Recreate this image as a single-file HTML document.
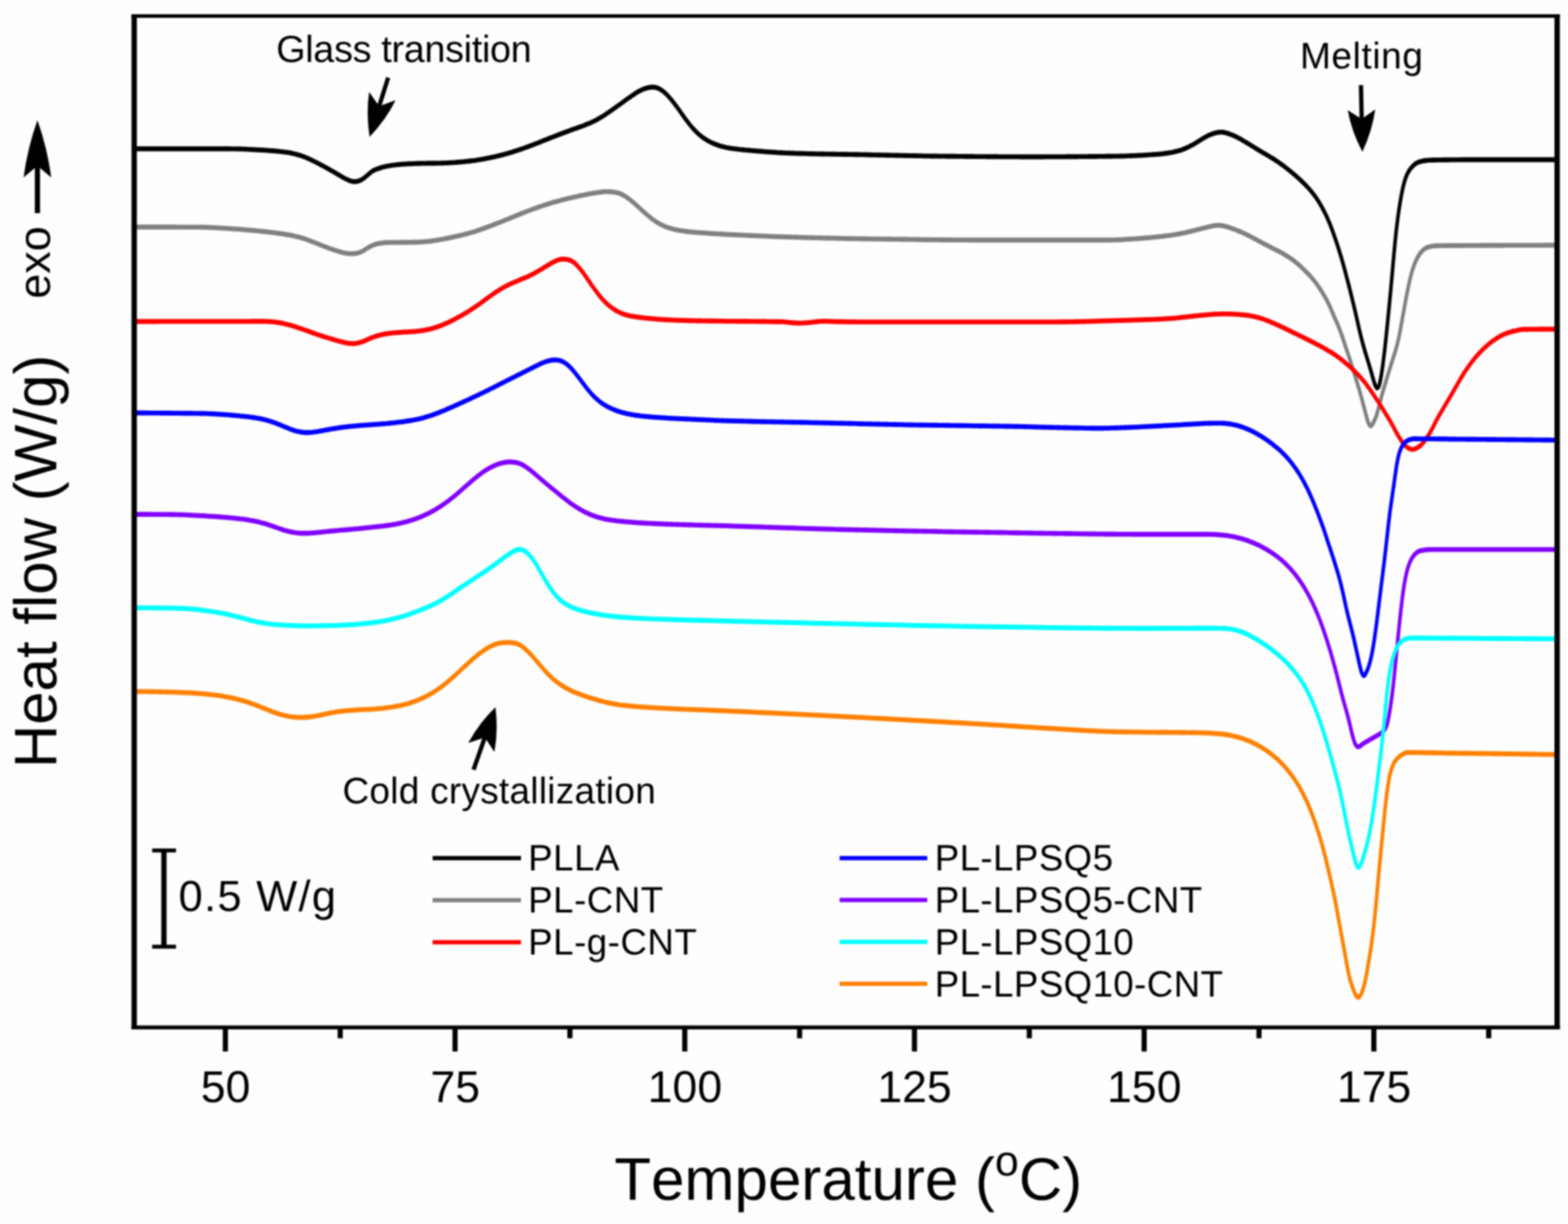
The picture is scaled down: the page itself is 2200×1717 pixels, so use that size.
<!DOCTYPE html>
<html lang="en"><head><meta charset="utf-8"><title>DSC heating curves</title>
<style>html,body{margin:0;padding:0;background:#fefefe;}body{width:2200px;height:1717px;overflow:hidden;}svg{display:block;filter:blur(0.9px);}</style>
</head><body>
<svg width="2200" height="1717" viewBox="0 0 2200 1717">
<rect x="0" y="0" width="2200" height="1717" fill="#fefefe"/>
<defs><clipPath id="cp"><rect x="186" y="20" width="2002" height="1424"/></clipPath></defs>
<g clip-path="url(#cp)"><g transform="scale(1,1.36)" fill="none" stroke-linejoin="round" stroke-linecap="butt" stroke-width="5.05">
<path d="M186 153.5L188 153.5L190 153.5L192 153.5L194 153.5L196 153.5L198 153.5L200 153.5L202 153.5L204 153.5L206 153.5L208 153.5L210 153.5L212 153.5L214 153.5L216 153.5L218 153.5L220 153.5L222 153.5L224 153.5L226 153.5L228 153.5L230 153.5L232 153.5L234 153.5L236 153.5L238 153.5L240 153.5L242 153.5L244 153.5L246 153.5L248 153.5L250 153.5L252 153.5L254 153.5L256 153.5L258 153.5L260 153.5L262 153.5L264 153.5L266 153.5L268 153.5L270 153.5L272 153.5L274 153.5L276 153.5L278 153.5L280 153.5L282 153.5L284 153.5L286 153.5L288 153.5L290 153.5L292 153.5L294 153.5L296 153.5L298 153.5L300 153.5L302 153.5L304 153.5L306 153.5L308 153.5L310 153.5L312 153.5L314 153.5L316 153.5L318 153.5L320 153.5L322 153.5L324 153.6L326 153.6L328 153.6L330 153.6L332 153.6L334 153.7L336 153.7L338 153.7L340 153.8L342 153.8L344 153.9L346 154.0L348 154.0L350 154.1L352 154.2L354 154.2L356 154.3L358 154.4L360 154.5L362 154.6L364 154.6L366 154.7L368 154.8L370 154.9L372 155.0L374 155.1L376 155.2L378 155.3L380 155.4L382 155.5L384 155.6L386 155.8L388 155.9L390 156.0L392 156.2L394 156.3L396 156.5L398 156.7L400 156.9L402 157.1L404 157.3L406 157.5L408 157.8L410 158.1L412 158.5L414 158.8L416 159.2L418 159.6L420 160.0L422 160.5L424 161.0L426 161.6L428 162.1L430 162.7L432 163.4L434 164.0L436 164.7L438 165.4L440 166.1L442 166.9L444 167.6L446 168.4L448 169.1L450 169.9L452 170.7L454 171.5L456 172.3L458 173.1L460 173.9L462 174.8L464 175.6L466 176.4L468 177.3L470 178.1L472 179.0L474 179.8L476 180.7L478 181.6L480 182.4L482 183.3L484 184.1L486 184.8L488 185.5L490 186.1L492 186.6L494 187.0L496 187.3L498 187.3L500 187.2L502 186.9L504 186.5L506 185.8L508 185.0L510 184.1L512 182.9L514 181.7L516 180.4L518 179.1L520 177.9L522 176.8L524 175.9L526 175.2L528 174.6L530 174.1L532 173.6L534 173.1L536 172.6L538 172.2L540 171.9L542 171.5L544 171.2L546 171.0L548 170.7L550 170.5L552 170.3L554 170.1L556 170.0L558 169.8L560 169.7L562 169.5L564 169.4L566 169.3L568 169.2L570 169.1L572 169.0L574 168.9L576 168.9L578 168.8L580 168.8L582 168.7L584 168.7L586 168.6L588 168.6L590 168.6L592 168.5L594 168.5L596 168.5L598 168.5L600 168.4L602 168.4L604 168.4L606 168.4L608 168.4L610 168.4L612 168.3L614 168.3L616 168.3L618 168.3L620 168.2L622 168.2L624 168.1L626 168.1L628 168.0L630 167.9L632 167.8L634 167.7L636 167.7L638 167.6L640 167.5L642 167.3L644 167.2L646 167.1L648 167.0L650 166.8L652 166.7L654 166.5L656 166.4L658 166.2L660 166.0L662 165.9L664 165.7L666 165.5L668 165.3L670 165.0L672 164.8L674 164.6L676 164.3L678 164.1L680 163.8L682 163.5L684 163.2L686 162.9L688 162.6L690 162.3L692 162.0L694 161.7L696 161.3L698 161.0L700 160.6L702 160.3L704 159.9L706 159.5L708 159.1L710 158.7L712 158.3L714 157.8L716 157.4L718 157.0L720 156.5L722 156.0L724 155.6L726 155.1L728 154.6L730 154.1L732 153.6L734 153.1L736 152.6L738 152.0L740 151.5L742 151.0L744 150.4L746 149.8L748 149.3L750 148.7L752 148.1L754 147.6L756 147.0L758 146.4L760 145.8L762 145.2L764 144.6L766 144.1L768 143.5L770 142.9L772 142.3L774 141.7L776 141.2L778 140.6L780 140.0L782 139.5L784 138.9L786 138.3L788 137.8L790 137.2L792 136.7L794 136.1L796 135.6L798 135.0L800 134.5L802 133.9L804 133.4L806 132.9L808 132.4L810 131.9L812 131.3L814 130.8L816 130.3L818 129.8L820 129.2L822 128.6L824 128.0L826 127.4L828 126.8L830 126.1L832 125.5L834 124.7L836 124.0L838 123.2L840 122.4L842 121.5L844 120.6L846 119.7L848 118.8L850 117.8L852 116.8L854 115.8L856 114.8L858 113.8L860 112.7L862 111.7L864 110.6L866 109.6L868 108.5L870 107.5L872 106.4L874 105.3L876 104.3L878 103.2L880 102.1L882 101.1L884 100.1L886 99.0L888 98.1L890 97.1L892 96.1L894 95.2L896 94.3L898 93.5L900 92.8L902 92.1L904 91.6L906 91.1L908 90.7L910 90.3L912 90.1L914 89.9L916 89.8L918 90.0L920 90.2L922 90.7L924 91.2L926 92.0L928 92.9L930 93.9L932 95.1L934 96.5L936 97.9L938 99.5L940 101.2L942 102.9L944 104.7L946 106.6L948 108.6L950 110.6L952 112.6L954 114.7L956 116.8L958 118.9L960 120.9L962 123.0L964 124.9L966 126.8L968 128.7L970 130.5L972 132.2L974 133.8L976 135.3L978 136.8L980 138.1L982 139.4L984 140.6L986 141.7L988 142.8L990 143.7L992 144.6L994 145.5L996 146.2L998 147.0L1000 147.6L1002 148.3L1004 148.8L1006 149.4L1008 149.9L1010 150.4L1012 150.8L1014 151.2L1016 151.6L1018 151.9L1020 152.3L1022 152.5L1024 152.8L1026 153.0L1028 153.2L1030 153.4L1032 153.6L1034 153.8L1036 154.0L1038 154.1L1040 154.3L1042 154.4L1044 154.6L1046 154.7L1048 154.9L1050 155.0L1052 155.1L1054 155.3L1056 155.4L1058 155.5L1060 155.6L1062 155.8L1064 155.9L1066 156.0L1068 156.1L1070 156.2L1072 156.4L1074 156.5L1076 156.6L1078 156.7L1080 156.8L1082 156.9L1084 157.0L1086 157.1L1088 157.2L1090 157.3L1092 157.4L1094 157.5L1096 157.5L1098 157.6L1100 157.7L1102 157.8L1104 157.8L1106 157.9L1108 157.9L1110 158.0L1112 158.1L1114 158.1L1116 158.2L1118 158.2L1120 158.3L1122 158.3L1124 158.3L1126 158.4L1128 158.4L1130 158.4L1132 158.5L1134 158.5L1136 158.5L1138 158.6L1140 158.6L1142 158.6L1144 158.7L1146 158.7L1148 158.7L1150 158.8L1152 158.8L1154 158.8L1156 158.8L1158 158.9L1160 158.9L1162 158.9L1164 158.9L1166 159.0L1168 159.0L1170 159.0L1172 159.0L1174 159.1L1176 159.1L1178 159.1L1180 159.1L1182 159.2L1184 159.2L1186 159.2L1188 159.2L1190 159.3L1192 159.3L1194 159.3L1196 159.3L1198 159.4L1200 159.4L1202 159.4L1204 159.4L1206 159.5L1208 159.5L1210 159.5L1212 159.5L1214 159.6L1216 159.6L1218 159.6L1220 159.7L1222 159.7L1224 159.7L1226 159.8L1228 159.8L1230 159.8L1232 159.9L1234 159.9L1236 159.9L1238 160.0L1240 160.0L1242 160.0L1244 160.1L1246 160.1L1248 160.1L1250 160.2L1252 160.2L1254 160.2L1256 160.3L1258 160.3L1260 160.3L1262 160.4L1264 160.4L1266 160.4L1268 160.5L1270 160.5L1272 160.5L1274 160.6L1276 160.6L1278 160.6L1280 160.6L1282 160.7L1284 160.7L1286 160.7L1288 160.8L1290 160.8L1292 160.8L1294 160.8L1296 160.9L1298 160.9L1300 160.9L1302 160.9L1304 160.9L1306 161.0L1308 161.0L1310 161.0L1312 161.0L1314 161.0L1316 161.1L1318 161.1L1320 161.1L1322 161.1L1324 161.1L1326 161.1L1328 161.2L1330 161.2L1332 161.2L1334 161.2L1336 161.2L1338 161.2L1340 161.2L1342 161.3L1344 161.3L1346 161.3L1348 161.3L1350 161.3L1352 161.3L1354 161.4L1356 161.4L1358 161.4L1360 161.4L1362 161.4L1364 161.4L1366 161.4L1368 161.5L1370 161.5L1372 161.5L1374 161.5L1376 161.5L1378 161.5L1380 161.5L1382 161.5L1384 161.6L1386 161.6L1388 161.6L1390 161.6L1392 161.6L1394 161.6L1396 161.6L1398 161.6L1400 161.6L1402 161.7L1404 161.7L1406 161.7L1408 161.7L1410 161.7L1412 161.7L1414 161.7L1416 161.7L1418 161.7L1420 161.7L1422 161.7L1424 161.7L1426 161.7L1428 161.7L1430 161.7L1432 161.8L1434 161.8L1436 161.8L1438 161.8L1440 161.8L1442 161.8L1444 161.8L1446 161.8L1448 161.8L1450 161.8L1452 161.8L1454 161.8L1456 161.8L1458 161.8L1460 161.8L1462 161.8L1464 161.8L1466 161.7L1468 161.7L1470 161.7L1472 161.7L1474 161.7L1476 161.7L1478 161.7L1480 161.7L1482 161.7L1484 161.7L1486 161.7L1488 161.7L1490 161.7L1492 161.7L1494 161.7L1496 161.6L1498 161.6L1500 161.6L1502 161.6L1504 161.6L1506 161.6L1508 161.6L1510 161.6L1512 161.6L1514 161.5L1516 161.5L1518 161.5L1520 161.5L1522 161.5L1524 161.5L1526 161.5L1528 161.4L1530 161.4L1532 161.4L1534 161.4L1536 161.4L1538 161.4L1540 161.3L1542 161.3L1544 161.3L1546 161.3L1548 161.3L1550 161.3L1552 161.2L1554 161.2L1556 161.2L1558 161.2L1560 161.2L1562 161.1L1564 161.1L1566 161.1L1568 161.1L1570 161.1L1572 161.0L1574 161.0L1576 161.0L1578 160.9L1580 160.9L1582 160.8L1584 160.8L1586 160.7L1588 160.7L1590 160.6L1592 160.6L1594 160.5L1596 160.4L1598 160.3L1600 160.3L1602 160.2L1604 160.1L1606 160.0L1608 159.9L1610 159.8L1612 159.7L1614 159.6L1616 159.5L1618 159.4L1620 159.3L1622 159.2L1624 159.1L1626 159.0L1628 158.8L1630 158.7L1632 158.5L1634 158.3L1636 158.1L1638 157.9L1640 157.7L1642 157.4L1644 157.2L1646 156.9L1648 156.6L1650 156.2L1652 155.8L1654 155.4L1656 155.0L1658 154.5L1660 154.0L1662 153.4L1664 152.8L1666 152.1L1668 151.4L1670 150.6L1672 149.9L1674 149.1L1676 148.2L1678 147.3L1680 146.4L1682 145.5L1684 144.6L1686 143.7L1688 142.8L1690 141.9L1692 141.1L1694 140.3L1696 139.6L1698 138.9L1700 138.4L1702 137.8L1704 137.4L1706 137.0L1708 136.7L1710 136.4L1712 136.3L1714 136.3L1716 136.4L1718 136.7L1720 137.0L1722 137.4L1724 137.9L1726 138.5L1728 139.0L1730 139.6L1732 140.3L1734 140.9L1736 141.7L1738 142.4L1740 143.2L1742 144.1L1744 144.9L1746 145.8L1748 146.7L1750 147.6L1752 148.5L1754 149.4L1756 150.3L1758 151.2L1760 152.1L1762 153.0L1764 153.9L1766 154.8L1768 155.7L1770 156.6L1772 157.4L1774 158.3L1776 159.1L1778 160.0L1780 160.9L1782 161.8L1784 162.7L1786 163.6L1788 164.5L1790 165.5L1792 166.5L1794 167.5L1796 168.5L1798 169.6L1800 170.6L1802 171.7L1804 172.9L1806 174.0L1808 175.2L1810 176.4L1812 177.6L1814 178.8L1816 180.1L1818 181.3L1820 182.6L1822 183.9L1824 185.3L1826 186.7L1828 188.1L1830 189.5L1832 191.0L1834 192.6L1836 194.2L1838 195.8L1840 197.6L1842 199.4L1844 201.3L1846 203.3L1848 205.5L1850 207.8L1852 210.2L1854 212.7L1856 215.4L1858 218.2L1859 219.7L1860 221.2L1861 222.7L1862 224.3L1863 226.0L1864 227.7L1865 229.4L1866 231.2L1867 233.1L1868 235.0L1869 237.0L1870 239.0L1871 241.0L1872 243.1L1873 245.2L1874 247.3L1875 249.5L1876 251.7L1877 254.0L1878 256.3L1879 258.6L1880 261.0L1881 263.4L1882 265.9L1883 268.4L1884 271.0L1885 273.7L1886 276.3L1887 279.0L1888 281.8L1889 284.6L1890 287.4L1891 290.2L1892 293.0L1893 295.9L1894 298.8L1895 301.8L1896 304.7L1897 307.7L1898 310.7L1899 313.8L1900 316.9L1901 320.0L1902 323.2L1903 326.4L1904 329.6L1905 332.9L1906 336.2L1907 339.4L1908 342.5L1909 345.6L1910 348.6L1911 351.4L1912 354.2L1913 356.9L1914 359.4L1915 362.0L1916 364.4L1917 366.9L1918 369.3L1919 371.7L1920 374.1L1921 376.5L1922 379.0L1923 381.5L1924 384.0L1925 386.5L1926 389.1L1927 391.7L1928 394.2L1929 396.5L1930 398.3L1932 400.3L1934 399.3L1935 397.4L1936 394.7L1937 391.2L1938 387.1L1939 382.5L1940 377.4L1941 371.8L1942 365.9L1943 359.5L1944 352.9L1945 345.9L1946 338.8L1947 331.5L1948 324.1L1949 316.7L1950 309.1L1951 301.3L1952 293.3L1953 285.2L1954 277.0L1955 268.7L1956 260.6L1957 252.7L1958 245.2L1959 238.3L1960 232.0L1961 226.1L1962 220.6L1963 215.5L1964 210.8L1965 206.4L1966 202.2L1967 198.4L1968 194.9L1969 191.7L1970 188.8L1971 186.2L1972 184.0L1973 181.9L1974 180.2L1976 177.3L1978 175.0L1980 173.1L1982 171.5L1984 170.0L1986 168.9L1988 168.0L1990 167.4L1992 166.9L1994 166.5L1996 166.1L1998 165.8L2000 165.6L2002 165.4L2004 165.3L2006 165.2L2008 165.2L2010 165.1L2012 165.1L2014 165.1L2016 165.0L2018 165.0L2020 165.0L2022 165.0L2024 164.9L2026 164.9L2028 164.9L2030 164.9L2032 164.9L2034 164.8L2036 164.8L2038 164.8L2040 164.8L2042 164.8L2044 164.8L2046 164.8L2048 164.8L2050 164.7L2052 164.7L2054 164.7L2056 164.7L2058 164.7L2060 164.7L2062 164.7L2064 164.7L2066 164.7L2068 164.7L2070 164.7L2072 164.7L2074 164.7L2076 164.7L2078 164.7L2080 164.7L2082 164.7L2084 164.7L2086 164.7L2088 164.7L2090 164.7L2092 164.7L2094 164.7L2096 164.7L2098 164.7L2100 164.7L2102 164.7L2104 164.7L2106 164.7L2108 164.7L2110 164.7L2112 164.7L2114 164.7L2116 164.7L2118 164.7L2120 164.7L2122 164.7L2124 164.7L2126 164.7L2128 164.7L2130 164.7L2132 164.7L2134 164.7L2136 164.7L2138 164.7L2140 164.7L2142 164.7L2144 164.7L2146 164.7L2148 164.7L2150 164.7L2152 164.7L2154 164.7L2156 164.7L2158 164.7L2160 164.7L2162 164.7L2164 164.7L2166 164.7L2168 164.7L2170 164.7L2172 164.7L2174 164.7L2176 164.7L2178 164.7L2180 164.7L2182 164.7L2184 164.7L2186 164.7" stroke="#000000"/>
<path d="M186 234.2L188 234.2L190 234.2L192 234.2L194 234.2L196 234.2L198 234.2L200 234.2L202 234.2L204 234.2L206 234.2L208 234.2L210 234.2L212 234.2L214 234.2L216 234.2L218 234.2L220 234.2L222 234.2L224 234.2L226 234.2L228 234.2L230 234.2L232 234.2L234 234.2L236 234.2L238 234.2L240 234.2L242 234.2L244 234.2L246 234.2L248 234.3L250 234.3L252 234.3L254 234.3L256 234.3L258 234.3L260 234.3L262 234.3L264 234.3L266 234.3L268 234.3L270 234.3L272 234.3L274 234.3L276 234.3L278 234.3L280 234.3L282 234.4L284 234.4L286 234.4L288 234.5L290 234.5L292 234.6L294 234.6L296 234.7L298 234.7L300 234.8L302 234.9L304 235.0L306 235.0L308 235.1L310 235.2L312 235.3L314 235.4L316 235.5L318 235.6L320 235.7L322 235.8L324 235.9L326 236.0L328 236.1L330 236.2L332 236.3L334 236.4L336 236.5L338 236.6L340 236.7L342 236.9L344 237.0L346 237.1L348 237.2L350 237.4L352 237.5L354 237.6L356 237.8L358 237.9L360 238.0L362 238.2L364 238.3L366 238.5L368 238.7L370 238.8L372 239.0L374 239.1L376 239.3L378 239.5L380 239.6L382 239.8L384 240.0L386 240.2L388 240.4L390 240.6L392 240.8L394 241.0L396 241.2L398 241.4L400 241.6L402 241.9L404 242.1L406 242.4L408 242.7L410 243.0L412 243.3L414 243.6L416 244.0L418 244.3L420 244.7L422 245.1L424 245.6L426 246.1L428 246.5L430 247.0L432 247.6L434 248.1L436 248.7L438 249.2L440 249.8L442 250.4L444 251.0L446 251.5L448 252.1L450 252.7L452 253.3L454 253.9L456 254.4L458 255.0L460 255.6L462 256.1L464 256.6L466 257.1L468 257.6L470 258.1L472 258.6L474 259.1L476 259.5L478 259.9L480 260.3L482 260.7L484 261.0L486 261.3L488 261.5L490 261.6L492 261.7L494 261.7L496 261.6L498 261.5L500 261.2L502 260.9L504 260.5L506 260.0L508 259.3L510 258.5L512 257.6L514 256.6L516 255.7L518 254.8L520 254.0L522 253.3L524 252.7L526 252.2L528 251.7L530 251.4L532 251.1L534 250.8L536 250.6L538 250.4L540 250.3L542 250.2L544 250.2L546 250.1L548 250.1L550 250.1L552 250.1L554 250.1L556 250.1L558 250.1L560 250.1L562 250.0L564 250.0L566 250.0L568 250.0L570 250.0L572 249.9L574 249.9L576 249.9L578 249.9L580 249.8L582 249.8L584 249.8L586 249.7L588 249.7L590 249.6L592 249.5L594 249.4L596 249.3L598 249.2L600 249.0L602 248.9L604 248.7L606 248.5L608 248.3L610 248.1L612 247.9L614 247.6L616 247.4L618 247.1L620 246.8L622 246.6L624 246.3L626 246.0L628 245.7L630 245.4L632 245.1L634 244.8L636 244.5L638 244.1L640 243.8L642 243.5L644 243.2L646 242.8L648 242.5L650 242.1L652 241.7L654 241.3L656 240.9L658 240.5L660 240.1L662 239.7L664 239.2L666 238.8L668 238.3L670 237.8L672 237.3L674 236.8L676 236.3L678 235.8L680 235.2L682 234.7L684 234.2L686 233.6L688 233.1L690 232.5L692 231.9L694 231.4L696 230.8L698 230.2L700 229.6L702 229.1L704 228.5L706 227.9L708 227.3L710 226.7L712 226.1L714 225.5L716 224.9L718 224.3L720 223.7L722 223.1L724 222.5L726 221.9L728 221.3L730 220.7L732 220.1L734 219.5L736 219.0L738 218.4L740 217.8L742 217.3L744 216.7L746 216.2L748 215.6L750 215.1L752 214.6L754 214.0L756 213.5L758 213.0L760 212.5L762 212.0L764 211.5L766 211.1L768 210.6L770 210.1L772 209.7L774 209.2L776 208.8L778 208.4L780 208.0L782 207.6L784 207.2L786 206.8L788 206.4L790 206.0L792 205.7L794 205.3L796 204.9L798 204.6L800 204.2L802 203.9L804 203.6L806 203.2L808 202.9L810 202.6L812 202.2L814 201.9L816 201.6L818 201.3L820 201.0L822 200.7L824 200.4L826 200.1L828 199.8L830 199.6L832 199.3L834 199.1L836 198.8L838 198.6L840 198.4L842 198.2L844 198.0L846 197.8L848 197.7L850 197.7L852 197.7L854 197.7L856 197.8L858 197.9L860 198.1L862 198.3L864 198.5L866 198.8L868 199.2L870 199.7L872 200.4L874 201.1L876 202.0L878 202.9L880 203.9L882 205.0L884 206.1L886 207.3L888 208.5L890 209.7L892 211.0L894 212.4L896 213.7L898 215.1L900 216.4L902 217.8L904 219.1L906 220.4L908 221.7L910 222.9L912 224.1L914 225.3L916 226.4L918 227.4L920 228.4L922 229.4L924 230.3L926 231.1L928 231.9L930 232.6L932 233.3L934 233.9L936 234.4L938 234.9L940 235.4L942 235.8L944 236.2L946 236.6L948 236.9L950 237.2L952 237.5L954 237.8L956 238.0L958 238.2L960 238.4L962 238.6L964 238.8L966 239.0L968 239.1L970 239.3L972 239.4L974 239.5L976 239.7L978 239.8L980 239.9L982 240.0L984 240.1L986 240.2L988 240.3L990 240.4L992 240.5L994 240.6L996 240.7L998 240.8L1000 240.9L1002 241.0L1004 241.1L1006 241.2L1008 241.3L1010 241.3L1012 241.4L1014 241.5L1016 241.6L1018 241.7L1020 241.8L1022 241.8L1024 241.9L1026 242.0L1028 242.1L1030 242.1L1032 242.2L1034 242.3L1036 242.4L1038 242.4L1040 242.5L1042 242.6L1044 242.6L1046 242.7L1048 242.8L1050 242.8L1052 242.9L1054 243.0L1056 243.0L1058 243.1L1060 243.2L1062 243.2L1064 243.3L1066 243.4L1068 243.4L1070 243.5L1072 243.5L1074 243.6L1076 243.7L1078 243.7L1080 243.8L1082 243.8L1084 243.9L1086 244.0L1088 244.0L1090 244.1L1092 244.1L1094 244.2L1096 244.2L1098 244.3L1100 244.3L1102 244.4L1104 244.4L1106 244.5L1108 244.5L1110 244.6L1112 244.6L1114 244.7L1116 244.7L1118 244.7L1120 244.8L1122 244.8L1124 244.9L1126 244.9L1128 245.0L1130 245.0L1132 245.0L1134 245.1L1136 245.1L1138 245.2L1140 245.2L1142 245.2L1144 245.3L1146 245.3L1148 245.3L1150 245.4L1152 245.4L1154 245.5L1156 245.5L1158 245.5L1160 245.6L1162 245.6L1164 245.6L1166 245.7L1168 245.7L1170 245.7L1172 245.8L1174 245.8L1176 245.8L1178 245.9L1180 245.9L1182 245.9L1184 246.0L1186 246.0L1188 246.0L1190 246.0L1192 246.1L1194 246.1L1196 246.1L1198 246.1L1200 246.2L1202 246.2L1204 246.2L1206 246.2L1208 246.3L1210 246.3L1212 246.3L1214 246.3L1216 246.4L1218 246.4L1220 246.4L1222 246.4L1224 246.4L1226 246.5L1228 246.5L1230 246.5L1232 246.5L1234 246.6L1236 246.6L1238 246.6L1240 246.6L1242 246.6L1244 246.7L1246 246.7L1248 246.7L1250 246.7L1252 246.7L1254 246.8L1256 246.8L1258 246.8L1260 246.8L1262 246.8L1264 246.9L1266 246.9L1268 246.9L1270 246.9L1272 246.9L1274 247.0L1276 247.0L1278 247.0L1280 247.0L1282 247.0L1284 247.1L1286 247.1L1288 247.1L1290 247.1L1292 247.1L1294 247.2L1296 247.2L1298 247.2L1300 247.2L1302 247.2L1304 247.2L1306 247.3L1308 247.3L1310 247.3L1312 247.3L1314 247.3L1316 247.3L1318 247.3L1320 247.4L1322 247.4L1324 247.4L1326 247.4L1328 247.4L1330 247.4L1332 247.4L1334 247.4L1336 247.5L1338 247.5L1340 247.5L1342 247.5L1344 247.5L1346 247.5L1348 247.5L1350 247.5L1352 247.5L1354 247.5L1356 247.5L1358 247.5L1360 247.5L1362 247.6L1364 247.6L1366 247.6L1368 247.6L1370 247.6L1372 247.6L1374 247.6L1376 247.6L1378 247.6L1380 247.6L1382 247.6L1384 247.6L1386 247.6L1388 247.6L1390 247.6L1392 247.6L1394 247.6L1396 247.6L1398 247.6L1400 247.6L1402 247.6L1404 247.6L1406 247.6L1408 247.6L1410 247.6L1412 247.6L1414 247.6L1416 247.6L1418 247.6L1420 247.6L1422 247.6L1424 247.6L1426 247.6L1428 247.6L1430 247.6L1432 247.6L1434 247.6L1436 247.6L1438 247.6L1440 247.6L1442 247.6L1444 247.6L1446 247.6L1448 247.6L1450 247.6L1452 247.6L1454 247.6L1456 247.6L1458 247.6L1460 247.6L1462 247.6L1464 247.6L1466 247.6L1468 247.6L1470 247.6L1472 247.6L1474 247.6L1476 247.6L1478 247.6L1480 247.6L1482 247.6L1484 247.6L1486 247.6L1488 247.6L1490 247.6L1492 247.6L1494 247.6L1496 247.6L1498 247.6L1500 247.6L1502 247.6L1504 247.6L1506 247.6L1508 247.6L1510 247.6L1512 247.6L1514 247.6L1516 247.6L1518 247.6L1520 247.6L1522 247.6L1524 247.6L1526 247.6L1528 247.6L1530 247.6L1532 247.6L1534 247.6L1536 247.6L1538 247.6L1540 247.6L1542 247.6L1544 247.6L1546 247.6L1548 247.6L1550 247.6L1552 247.6L1554 247.6L1556 247.6L1558 247.5L1560 247.5L1562 247.5L1564 247.4L1566 247.4L1568 247.4L1570 247.3L1572 247.2L1574 247.2L1576 247.1L1578 247.0L1580 246.9L1582 246.8L1584 246.7L1586 246.6L1588 246.5L1590 246.4L1592 246.3L1594 246.2L1596 246.1L1598 246.0L1600 245.9L1602 245.8L1604 245.7L1606 245.5L1608 245.4L1610 245.3L1612 245.2L1614 245.0L1616 244.9L1618 244.7L1620 244.6L1622 244.4L1624 244.3L1626 244.1L1628 244.0L1630 243.8L1632 243.6L1634 243.4L1636 243.2L1638 243.1L1640 242.9L1642 242.7L1644 242.5L1646 242.2L1648 242.0L1650 241.8L1652 241.5L1654 241.3L1656 241.0L1658 240.7L1660 240.4L1662 240.1L1664 239.8L1666 239.4L1668 239.1L1670 238.8L1672 238.4L1674 238.0L1676 237.7L1678 237.3L1680 236.9L1682 236.5L1684 236.1L1686 235.7L1688 235.3L1690 235.0L1692 234.6L1694 234.3L1696 233.9L1698 233.6L1700 233.3L1702 233.0L1704 232.7L1706 232.5L1708 232.4L1710 232.4L1712 232.5L1714 232.7L1716 232.9L1718 233.3L1720 233.6L1722 234.1L1724 234.5L1726 235.0L1728 235.5L1730 236.0L1732 236.6L1734 237.1L1736 237.7L1738 238.3L1740 238.9L1742 239.6L1744 240.3L1746 240.9L1748 241.6L1750 242.4L1752 243.1L1754 243.8L1756 244.6L1758 245.4L1760 246.1L1762 246.9L1764 247.7L1766 248.5L1768 249.3L1770 250.1L1772 250.9L1774 251.6L1776 252.4L1778 253.2L1780 253.9L1782 254.7L1784 255.4L1786 256.2L1788 256.9L1790 257.7L1792 258.4L1794 259.2L1796 259.9L1798 260.7L1800 261.5L1802 262.4L1804 263.3L1806 264.2L1808 265.1L1810 266.1L1812 267.1L1814 268.2L1816 269.3L1818 270.5L1820 271.7L1822 272.9L1824 274.2L1826 275.6L1828 277.0L1830 278.4L1832 279.9L1834 281.4L1836 282.9L1838 284.5L1840 286.2L1842 287.9L1844 289.7L1846 291.6L1848 293.6L1850 295.7L1852 297.9L1854 300.2L1856 302.5L1858 305.0L1860 307.5L1862 310.2L1863 311.7L1864 313.2L1865 314.8L1866 316.4L1867 318.1L1868 319.8L1869 321.5L1870 323.2L1871 325.0L1872 326.7L1873 328.3L1874 330.0L1875 331.7L1876 333.3L1877 335.0L1878 336.8L1879 338.6L1880 340.5L1881 342.5L1882 344.5L1883 346.7L1884 348.8L1885 351.0L1886 353.3L1887 355.5L1888 357.7L1889 359.9L1890 362.1L1891 364.3L1892 366.5L1893 368.7L1894 371.0L1895 373.3L1896 375.5L1897 377.8L1898 380.1L1899 382.5L1900 384.8L1901 387.2L1902 389.6L1903 392.0L1904 394.4L1905 396.8L1906 399.2L1907 401.7L1908 404.3L1909 406.9L1910 409.6L1911 412.3L1912 415.1L1913 417.9L1914 420.7L1915 423.5L1916 426.4L1917 429.2L1918 431.9L1919 434.3L1920 436.3L1922 438.9L1924 439.2L1926 437.3L1928 434.4L1929 432.8L1930 431.1L1931 429.1L1932 426.8L1933 424.3L1934 421.7L1935 418.8L1936 415.8L1937 412.9L1938 410.0L1939 407.2L1940 404.5L1941 402.0L1942 399.5L1943 397.1L1944 394.7L1945 392.2L1946 389.8L1947 387.4L1948 385.0L1949 382.6L1950 380.2L1951 377.8L1952 375.5L1953 373.2L1954 370.9L1955 368.6L1956 366.3L1957 364.0L1958 361.5L1959 359.0L1960 356.3L1961 353.3L1962 350.1L1963 346.7L1964 343.1L1965 339.2L1966 335.2L1967 331.1L1968 327.0L1969 322.9L1970 318.8L1971 314.8L1972 310.8L1973 306.9L1974 303.1L1975 299.4L1976 295.7L1977 292.3L1978 289.0L1979 285.9L1980 283.0L1981 280.4L1982 277.9L1983 275.7L1984 273.6L1985 271.7L1986 269.9L1987 268.3L1989 265.4L1991 263.0L1993 260.9L1995 259.2L1997 257.7L1999 256.5L2001 255.7L2003 255.1L2005 254.7L2007 254.3L2009 254.0L2011 253.8L2013 253.6L2015 253.5L2017 253.5L2019 253.5L2021 253.4L2023 253.4L2025 253.4L2027 253.4L2029 253.4L2031 253.3L2033 253.3L2035 253.3L2037 253.3L2039 253.3L2041 253.3L2043 253.3L2045 253.3L2047 253.3L2049 253.3L2051 253.3L2053 253.2L2055 253.2L2057 253.2L2059 253.2L2061 253.2L2063 253.2L2065 253.2L2067 253.2L2069 253.2L2071 253.2L2073 253.2L2075 253.2L2077 253.2L2079 253.1L2081 253.1L2083 253.1L2085 253.1L2087 253.1L2089 253.1L2091 253.1L2093 253.1L2095 253.1L2097 253.1L2099 253.1L2101 253.1L2103 253.1L2105 253.1L2107 253.1L2109 253.1L2111 253.0L2113 253.0L2115 253.0L2117 253.0L2119 253.0L2121 253.0L2123 253.0L2125 253.0L2127 253.0L2129 253.0L2131 253.0L2133 253.0L2135 253.0L2137 253.0L2139 253.0L2141 253.0L2143 253.0L2145 253.0L2147 253.0L2149 253.0L2151 253.0L2153 253.0L2155 253.0L2157 253.0L2159 253.0L2161 253.0L2163 253.0L2165 252.9L2167 252.9L2169 252.9L2171 252.9L2173 252.9L2175 252.9L2177 252.9L2179 252.9L2181 252.9L2183 252.9L2185 252.9" stroke="#808080"/>
<path d="M186 331.6L188 331.6L190 331.6L192 331.6L194 331.6L196 331.6L198 331.6L200 331.6L202 331.6L204 331.6L206 331.6L208 331.6L210 331.6L212 331.6L214 331.6L216 331.6L218 331.6L220 331.6L222 331.5L224 331.5L226 331.5L228 331.5L230 331.5L232 331.5L234 331.5L236 331.5L238 331.5L240 331.5L242 331.5L244 331.5L246 331.5L248 331.5L250 331.5L252 331.5L254 331.5L256 331.5L258 331.5L260 331.5L262 331.5L264 331.5L266 331.5L268 331.5L270 331.5L272 331.5L274 331.5L276 331.5L278 331.5L280 331.5L282 331.5L284 331.5L286 331.5L288 331.5L290 331.5L292 331.5L294 331.5L296 331.5L298 331.5L300 331.5L302 331.5L304 331.5L306 331.5L308 331.5L310 331.5L312 331.5L314 331.5L316 331.5L318 331.5L320 331.5L322 331.5L324 331.5L326 331.5L328 331.5L330 331.5L332 331.5L334 331.5L336 331.5L338 331.5L340 331.5L342 331.5L344 331.5L346 331.5L348 331.5L350 331.5L352 331.4L354 331.4L356 331.4L358 331.4L360 331.4L362 331.4L364 331.4L366 331.4L368 331.4L370 331.4L372 331.5L374 331.5L376 331.6L378 331.7L380 331.8L382 331.9L384 332.0L386 332.2L388 332.4L390 332.6L392 332.9L394 333.1L396 333.4L398 333.7L400 334.1L402 334.4L404 334.8L406 335.2L408 335.6L410 336.0L412 336.5L414 336.9L416 337.4L418 337.9L420 338.4L422 338.9L424 339.4L426 339.9L428 340.5L430 341.0L432 341.5L434 342.0L436 342.6L438 343.1L440 343.6L442 344.1L444 344.7L446 345.2L448 345.7L450 346.1L452 346.6L454 347.1L456 347.6L458 348.0L460 348.5L462 348.9L464 349.4L466 349.8L468 350.2L470 350.7L472 351.1L474 351.5L476 351.9L478 352.3L480 352.7L482 353.1L484 353.4L486 353.7L488 353.9L490 354.1L492 354.3L494 354.3L496 354.4L498 354.3L500 354.1L502 353.8L504 353.4L506 353.0L508 352.5L510 352.0L512 351.4L514 350.8L516 350.1L518 349.4L520 348.8L522 348.2L524 347.6L526 347.1L528 346.6L530 346.2L532 345.8L534 345.4L536 345.1L538 344.8L540 344.5L542 344.3L544 344.0L546 343.8L548 343.7L550 343.5L552 343.3L554 343.2L556 343.1L558 343.0L560 342.9L562 342.8L564 342.7L566 342.6L568 342.5L570 342.5L572 342.4L574 342.3L576 342.2L578 342.1L580 342.0L582 341.9L584 341.7L586 341.6L588 341.4L590 341.2L592 341.0L594 340.8L596 340.5L598 340.2L600 339.9L602 339.6L604 339.2L606 338.9L608 338.5L610 338.0L612 337.5L614 337.0L616 336.5L618 336.0L620 335.4L622 334.8L624 334.2L626 333.5L628 332.9L630 332.2L632 331.4L634 330.7L636 330.0L638 329.2L640 328.4L642 327.6L644 326.8L646 326.0L648 325.2L650 324.3L652 323.4L654 322.6L656 321.7L658 320.8L660 319.8L662 318.9L664 317.9L666 316.9L668 315.9L670 314.9L672 313.9L674 312.8L676 311.7L678 310.7L680 309.6L682 308.5L684 307.4L686 306.4L688 305.3L690 304.3L692 303.2L694 302.2L696 301.2L698 300.3L700 299.3L702 298.4L704 297.5L706 296.7L708 295.9L710 295.1L712 294.3L714 293.6L716 292.9L718 292.3L720 291.6L722 291.0L724 290.4L726 289.7L728 289.1L730 288.5L732 287.9L734 287.3L736 286.7L738 286.1L740 285.4L742 284.7L744 284.0L746 283.3L748 282.5L750 281.8L752 280.9L754 280.1L756 279.2L758 278.4L760 277.5L762 276.6L764 275.7L766 274.8L768 273.9L770 273.0L772 272.1L774 271.3L776 270.5L778 269.7L780 269.0L782 268.4L784 267.9L786 267.6L788 267.4L790 267.3L792 267.3L794 267.5L796 267.7L798 268.0L800 268.5L802 269.2L804 270.1L806 271.2L808 272.5L810 274.0L812 275.6L814 277.4L816 279.2L818 281.2L820 283.2L822 285.3L824 287.5L826 289.7L828 291.8L830 294.0L832 296.1L834 298.1L836 300.1L838 302.1L840 304.0L842 305.8L844 307.6L846 309.2L848 310.8L850 312.3L852 313.6L854 314.9L856 316.1L858 317.3L860 318.3L862 319.3L864 320.2L866 321.0L868 321.8L870 322.5L872 323.2L874 323.7L876 324.2L878 324.7L880 325.1L882 325.5L884 325.8L886 326.1L888 326.3L890 326.6L892 326.8L894 327.0L896 327.2L898 327.4L900 327.6L902 327.8L904 327.9L906 328.1L908 328.2L910 328.4L912 328.5L914 328.7L916 328.8L918 328.9L920 329.0L922 329.2L924 329.3L926 329.4L928 329.5L930 329.6L932 329.7L934 329.8L936 329.8L938 329.9L940 330.0L942 330.1L944 330.1L946 330.2L948 330.2L950 330.3L952 330.4L954 330.4L956 330.4L958 330.5L960 330.5L962 330.6L964 330.6L966 330.7L968 330.7L970 330.7L972 330.8L974 330.8L976 330.8L978 330.9L980 330.9L982 330.9L984 330.9L986 331.0L988 331.0L990 331.0L992 331.0L994 331.1L996 331.1L998 331.1L1000 331.1L1002 331.1L1004 331.2L1006 331.2L1008 331.2L1010 331.2L1012 331.2L1014 331.2L1016 331.2L1018 331.3L1020 331.3L1022 331.3L1024 331.3L1026 331.3L1028 331.3L1030 331.3L1032 331.3L1034 331.4L1036 331.4L1038 331.4L1040 331.4L1042 331.4L1044 331.4L1046 331.4L1048 331.4L1050 331.4L1052 331.5L1054 331.5L1056 331.5L1058 331.5L1060 331.5L1062 331.5L1064 331.5L1066 331.6L1068 331.6L1070 331.6L1072 331.6L1074 331.6L1076 331.7L1078 331.7L1080 331.7L1082 331.7L1084 331.8L1086 331.8L1088 331.8L1090 331.8L1092 331.8L1094 331.8L1096 331.9L1098 331.9L1100 332.0L1102 332.2L1104 332.3L1106 332.5L1108 332.6L1110 332.8L1112 332.9L1114 333.1L1116 333.1L1118 333.2L1120 333.3L1122 333.3L1124 333.2L1126 333.2L1128 333.1L1130 333.0L1132 332.9L1134 332.8L1136 332.7L1138 332.5L1140 332.3L1142 332.2L1144 332.0L1146 331.8L1148 331.7L1150 331.5L1152 331.4L1154 331.4L1156 331.3L1158 331.3L1160 331.4L1162 331.4L1164 331.5L1166 331.5L1168 331.6L1170 331.7L1172 331.7L1174 331.7L1176 331.8L1178 331.8L1180 331.8L1182 331.8L1184 331.9L1186 331.9L1188 331.9L1190 332.0L1192 332.0L1194 332.0L1196 332.0L1198 332.0L1200 332.1L1202 332.1L1204 332.1L1206 332.1L1208 332.1L1210 332.1L1212 332.1L1214 332.1L1216 332.1L1218 332.1L1220 332.1L1222 332.1L1224 332.1L1226 332.1L1228 332.1L1230 332.1L1232 332.1L1234 332.1L1236 332.1L1238 332.1L1240 332.1L1242 332.1L1244 332.1L1246 332.1L1248 332.1L1250 332.1L1252 332.1L1254 332.1L1256 332.1L1258 332.1L1260 332.1L1262 332.1L1264 332.1L1266 332.1L1268 332.1L1270 332.1L1272 332.1L1274 332.1L1276 332.1L1278 332.1L1280 332.1L1282 332.1L1284 332.1L1286 332.1L1288 332.1L1290 332.1L1292 332.1L1294 332.1L1296 332.1L1298 332.1L1300 332.1L1302 332.1L1304 332.1L1306 332.1L1308 332.1L1310 332.1L1312 332.1L1314 332.1L1316 332.1L1318 332.1L1320 332.1L1322 332.1L1324 332.1L1326 332.1L1328 332.1L1330 332.1L1332 332.1L1334 332.1L1336 332.1L1338 332.1L1340 332.1L1342 332.1L1344 332.1L1346 332.1L1348 332.1L1350 332.1L1352 332.1L1354 332.1L1356 332.1L1358 332.1L1360 332.1L1362 332.1L1364 332.1L1366 332.1L1368 332.1L1370 332.1L1372 332.1L1374 332.1L1376 332.1L1378 332.1L1380 332.1L1382 332.1L1384 332.1L1386 332.1L1388 332.1L1390 332.1L1392 332.1L1394 332.1L1396 332.1L1398 332.1L1400 332.1L1402 332.1L1404 332.1L1406 332.1L1408 332.1L1410 332.1L1412 332.1L1414 332.1L1416 332.1L1418 332.1L1420 332.1L1422 332.1L1424 332.1L1426 332.1L1428 332.1L1430 332.1L1432 332.1L1434 332.1L1436 332.1L1438 332.1L1440 332.1L1442 332.1L1444 332.1L1446 332.1L1448 332.1L1450 332.1L1452 332.1L1454 332.1L1456 332.1L1458 332.1L1460 332.1L1462 332.1L1464 332.1L1466 332.1L1468 332.1L1470 332.1L1472 332.1L1474 332.1L1476 332.1L1478 332.1L1480 332.1L1482 332.1L1484 332.1L1486 332.1L1488 332.1L1490 332.0L1492 332.0L1494 332.0L1496 332.0L1498 332.0L1500 331.9L1502 331.9L1504 331.9L1506 331.9L1508 331.8L1510 331.8L1512 331.8L1514 331.7L1516 331.7L1518 331.7L1520 331.6L1522 331.6L1524 331.5L1526 331.5L1528 331.5L1530 331.4L1532 331.4L1534 331.3L1536 331.3L1538 331.3L1540 331.2L1542 331.2L1544 331.1L1546 331.1L1548 331.0L1550 331.0L1552 330.9L1554 330.9L1556 330.9L1558 330.8L1560 330.8L1562 330.7L1564 330.7L1566 330.6L1568 330.6L1570 330.6L1572 330.5L1574 330.5L1576 330.4L1578 330.4L1580 330.4L1582 330.3L1584 330.3L1586 330.2L1588 330.2L1590 330.1L1592 330.1L1594 330.1L1596 330.0L1598 330.0L1600 329.9L1602 329.9L1604 329.8L1606 329.8L1608 329.7L1610 329.7L1612 329.6L1614 329.6L1616 329.5L1618 329.5L1620 329.4L1622 329.3L1624 329.3L1626 329.2L1628 329.2L1630 329.1L1632 329.0L1634 328.9L1636 328.8L1638 328.7L1640 328.6L1642 328.5L1644 328.4L1646 328.3L1648 328.2L1650 328.0L1652 327.9L1654 327.7L1656 327.6L1658 327.4L1660 327.2L1662 327.1L1664 326.9L1666 326.7L1668 326.6L1670 326.4L1672 326.3L1674 326.1L1676 325.9L1678 325.8L1680 325.6L1682 325.5L1684 325.3L1686 325.2L1688 325.1L1690 324.9L1692 324.8L1694 324.7L1696 324.5L1698 324.4L1700 324.3L1702 324.2L1704 324.1L1706 324.0L1708 324.0L1710 323.9L1712 323.8L1714 323.8L1716 323.8L1718 323.8L1720 323.8L1722 323.8L1724 323.8L1726 323.9L1728 323.9L1730 324.0L1732 324.1L1734 324.2L1736 324.2L1738 324.3L1740 324.5L1742 324.6L1744 324.7L1746 324.9L1748 325.0L1750 325.2L1752 325.4L1754 325.7L1756 326.0L1758 326.2L1760 326.6L1762 326.9L1764 327.3L1766 327.7L1768 328.1L1770 328.6L1772 329.0L1774 329.6L1776 330.1L1778 330.7L1780 331.2L1782 331.8L1784 332.5L1786 333.1L1788 333.7L1790 334.4L1792 335.1L1794 335.7L1796 336.4L1798 337.1L1800 337.8L1802 338.5L1804 339.2L1806 339.9L1808 340.6L1810 341.3L1812 342.1L1814 342.8L1816 343.5L1818 344.2L1820 344.9L1822 345.7L1824 346.4L1826 347.1L1828 347.8L1830 348.6L1832 349.3L1834 350.0L1836 350.7L1838 351.5L1840 352.2L1842 353.0L1844 353.7L1846 354.5L1848 355.3L1850 356.0L1852 356.8L1854 357.6L1856 358.4L1858 359.2L1860 360.1L1862 360.9L1864 361.8L1866 362.7L1868 363.6L1870 364.5L1872 365.5L1874 366.5L1876 367.5L1878 368.6L1880 369.7L1882 370.8L1884 372.0L1886 373.2L1888 374.5L1890 375.7L1892 377.0L1894 378.3L1896 379.7L1898 381.0L1900 382.4L1902 383.9L1904 385.4L1906 386.9L1908 388.5L1910 390.1L1912 391.8L1914 393.6L1916 395.5L1918 397.5L1920 399.5L1922 401.6L1924 403.7L1926 405.9L1928 408.1L1930 410.3L1932 412.5L1934 414.7L1936 417.0L1938 419.3L1940 421.7L1942 424.1L1944 426.5L1946 428.9L1948 431.3L1950 433.8L1952 436.4L1954 439.0L1956 441.8L1958 444.5L1960 447.2L1962 449.7L1964 452.1L1966 454.4L1968 456.5L1970 458.4L1972 460.0L1974 461.2L1976 462.1L1978 462.9L1980 463.3L1982 463.5L1984 463.3L1986 462.8L1988 462.0L1990 461.2L1992 460.2L1994 459.0L1996 457.4L1998 455.6L2000 453.6L2002 451.4L2004 449.2L2006 446.8L2008 444.2L2010 441.4L2012 438.5L2014 435.6L2016 432.8L2018 430.1L2020 427.5L2022 425.0L2024 422.5L2026 420.0L2028 417.5L2030 415.0L2032 412.6L2034 410.1L2036 407.6L2038 405.1L2040 402.5L2042 399.9L2044 397.3L2046 394.8L2048 392.2L2050 389.7L2052 387.3L2054 385.0L2056 382.7L2058 380.6L2060 378.5L2062 376.4L2064 374.4L2066 372.5L2068 370.6L2070 368.7L2072 367.0L2074 365.4L2076 363.8L2078 362.3L2080 360.8L2082 359.4L2084 358.0L2086 356.7L2088 355.4L2090 354.2L2092 353.0L2094 351.9L2096 350.9L2098 349.9L2100 348.9L2102 348.0L2104 347.1L2106 346.3L2108 345.6L2110 344.9L2112 344.3L2114 343.7L2116 343.2L2118 342.7L2120 342.3L2122 341.9L2124 341.5L2126 341.2L2128 340.9L2130 340.5L2132 340.2L2134 340.0L2136 339.8L2138 339.7L2140 339.7L2142 339.7L2144 339.7L2146 339.6L2148 339.6L2150 339.6L2152 339.6L2154 339.6L2156 339.6L2158 339.6L2160 339.5L2162 339.5L2164 339.5L2166 339.5L2168 339.5L2170 339.5L2172 339.5L2174 339.5L2176 339.5L2178 339.5L2180 339.5L2182 339.5L2184 339.5L2186 339.5" stroke="#ff0000"/>
<path d="M186 425.9L188 425.9L190 425.9L192 425.9L194 425.9L196 425.9L198 425.9L200 425.9L202 425.9L204 425.9L206 425.9L208 426.0L210 426.0L212 426.0L214 426.0L216 426.0L218 426.0L220 426.0L222 426.0L224 426.0L226 426.1L228 426.1L230 426.1L232 426.1L234 426.1L236 426.1L238 426.1L240 426.1L242 426.2L244 426.2L246 426.2L248 426.2L250 426.2L252 426.2L254 426.2L256 426.3L258 426.3L260 426.3L262 426.3L264 426.3L266 426.3L268 426.3L270 426.4L272 426.4L274 426.4L276 426.4L278 426.4L280 426.5L282 426.5L284 426.5L286 426.5L288 426.6L290 426.6L292 426.7L294 426.7L296 426.8L298 426.8L300 426.9L302 427.0L304 427.1L306 427.2L308 427.3L310 427.4L312 427.5L314 427.6L316 427.7L318 427.8L320 427.9L322 428.0L324 428.2L326 428.3L328 428.4L330 428.6L332 428.7L334 428.8L336 429.0L338 429.1L340 429.3L342 429.4L344 429.6L346 429.7L348 429.9L350 430.1L352 430.3L354 430.5L356 430.7L358 430.9L360 431.2L362 431.4L364 431.7L366 432.0L368 432.3L370 432.7L372 433.0L374 433.4L376 433.8L378 434.3L380 434.7L382 435.2L384 435.7L386 436.2L388 436.8L390 437.4L392 437.9L394 438.6L396 439.2L398 439.8L400 440.4L402 441.0L404 441.6L406 442.2L408 442.8L410 443.3L412 443.8L414 444.3L416 444.7L418 445.0L420 445.4L422 445.6L424 445.8L426 446.0L428 446.1L430 446.1L432 446.1L434 446.1L436 446.0L438 445.9L440 445.7L442 445.5L444 445.3L446 445.1L448 444.8L450 444.5L452 444.3L454 444.0L456 443.7L458 443.4L460 443.2L462 442.9L464 442.6L466 442.4L468 442.1L470 441.9L472 441.7L474 441.4L476 441.2L478 441.0L480 440.8L482 440.6L484 440.4L486 440.3L488 440.1L490 439.9L492 439.8L494 439.6L496 439.5L498 439.4L500 439.2L502 439.1L504 439.0L506 438.9L508 438.7L510 438.6L512 438.5L514 438.4L516 438.3L518 438.2L520 438.1L522 438.0L524 437.9L526 437.8L528 437.7L530 437.6L532 437.5L534 437.3L536 437.2L538 437.1L540 437.0L542 436.9L544 436.7L546 436.6L548 436.4L550 436.3L552 436.1L554 436.0L556 435.8L558 435.6L560 435.4L562 435.2L564 435.1L566 434.9L568 434.7L570 434.4L572 434.2L574 434.0L576 433.8L578 433.5L580 433.2L582 433.0L584 432.7L586 432.4L588 432.0L590 431.7L592 431.3L594 430.9L596 430.5L598 430.1L600 429.6L602 429.2L604 428.7L606 428.2L608 427.7L610 427.1L612 426.6L614 426.0L616 425.4L618 424.9L620 424.3L622 423.7L624 423.1L626 422.4L628 421.8L630 421.2L632 420.5L634 419.9L636 419.3L638 418.6L640 417.9L642 417.3L644 416.6L646 415.9L648 415.3L650 414.6L652 413.9L654 413.2L656 412.5L658 411.9L660 411.2L662 410.5L664 409.8L666 409.1L668 408.4L670 407.7L672 407.0L674 406.3L676 405.6L678 404.9L680 404.1L682 403.4L684 402.7L686 402.0L688 401.2L690 400.5L692 399.8L694 399.0L696 398.3L698 397.5L700 396.8L702 396.0L704 395.3L706 394.6L708 393.8L710 393.1L712 392.3L714 391.6L716 390.8L718 390.1L720 389.4L722 388.6L724 387.9L726 387.1L728 386.4L730 385.7L732 384.9L734 384.2L736 383.4L738 382.7L740 381.9L742 381.2L744 380.4L746 379.7L748 379.0L750 378.2L752 377.5L754 376.8L756 376.1L758 375.4L760 374.7L762 374.1L764 373.5L766 373.0L768 372.5L770 372.1L772 371.8L774 371.5L776 371.3L778 371.2L780 371.3L782 371.4L784 371.6L786 372.0L788 372.5L790 373.1L792 374.0L794 375.0L796 376.1L798 377.4L800 378.9L802 380.4L804 382.1L806 383.8L808 385.7L810 387.5L812 389.5L814 391.4L816 393.4L818 395.4L820 397.3L822 399.2L824 401.1L826 402.9L828 404.6L830 406.3L832 407.9L834 409.4L836 410.8L838 412.1L840 413.4L842 414.5L844 415.6L846 416.7L848 417.6L850 418.5L852 419.3L854 420.1L856 420.8L858 421.5L860 422.1L862 422.7L864 423.3L866 423.8L868 424.3L870 424.8L872 425.2L874 425.6L876 426.0L878 426.3L880 426.7L882 427.0L884 427.3L886 427.6L888 427.8L890 428.1L892 428.3L894 428.5L896 428.7L898 428.9L900 429.1L902 429.3L904 429.4L906 429.6L908 429.7L910 429.8L912 430.0L914 430.1L916 430.2L918 430.3L920 430.4L922 430.5L924 430.6L926 430.7L928 430.8L930 430.9L932 431.0L934 431.1L936 431.2L938 431.3L940 431.4L942 431.4L944 431.5L946 431.6L948 431.7L950 431.7L952 431.8L954 431.9L956 432.0L958 432.0L960 432.1L962 432.2L964 432.2L966 432.3L968 432.3L970 432.4L972 432.5L974 432.5L976 432.6L978 432.7L980 432.7L982 432.8L984 432.9L986 432.9L988 433.0L990 433.1L992 433.2L994 433.2L996 433.3L998 433.4L1000 433.4L1002 433.5L1004 433.6L1006 433.6L1008 433.7L1010 433.7L1012 433.8L1014 433.8L1016 433.9L1018 433.9L1020 434.0L1022 434.0L1024 434.1L1026 434.1L1028 434.2L1030 434.2L1032 434.2L1034 434.3L1036 434.3L1038 434.4L1040 434.4L1042 434.4L1044 434.5L1046 434.5L1048 434.5L1050 434.6L1052 434.6L1054 434.6L1056 434.7L1058 434.7L1060 434.7L1062 434.8L1064 434.8L1066 434.8L1068 434.9L1070 434.9L1072 434.9L1074 435.0L1076 435.0L1078 435.0L1080 435.0L1082 435.1L1084 435.1L1086 435.1L1088 435.2L1090 435.2L1092 435.2L1094 435.2L1096 435.3L1098 435.3L1100 435.3L1102 435.4L1104 435.4L1106 435.4L1108 435.4L1110 435.5L1112 435.5L1114 435.5L1116 435.6L1118 435.6L1120 435.6L1122 435.6L1124 435.7L1126 435.7L1128 435.7L1130 435.8L1132 435.8L1134 435.8L1136 435.9L1138 435.9L1140 435.9L1142 435.9L1144 436.0L1146 436.0L1148 436.0L1150 436.1L1152 436.1L1154 436.1L1156 436.2L1158 436.2L1160 436.2L1162 436.3L1164 436.3L1166 436.4L1168 436.4L1170 436.4L1172 436.5L1174 436.5L1176 436.5L1178 436.6L1180 436.6L1182 436.6L1184 436.7L1186 436.7L1188 436.7L1190 436.8L1192 436.8L1194 436.8L1196 436.9L1198 436.9L1200 436.9L1202 437.0L1204 437.0L1206 437.1L1208 437.1L1210 437.1L1212 437.2L1214 437.2L1216 437.2L1218 437.3L1220 437.3L1222 437.3L1224 437.4L1226 437.4L1228 437.4L1230 437.5L1232 437.5L1234 437.5L1236 437.6L1238 437.6L1240 437.6L1242 437.7L1244 437.7L1246 437.7L1248 437.8L1250 437.8L1252 437.8L1254 437.9L1256 437.9L1258 437.9L1260 438.0L1262 438.0L1264 438.0L1266 438.0L1268 438.1L1270 438.1L1272 438.1L1274 438.2L1276 438.2L1278 438.2L1280 438.2L1282 438.3L1284 438.3L1286 438.3L1288 438.3L1290 438.4L1292 438.4L1294 438.4L1296 438.4L1298 438.5L1300 438.5L1302 438.5L1304 438.5L1306 438.6L1308 438.6L1310 438.6L1312 438.6L1314 438.6L1316 438.7L1318 438.7L1320 438.7L1322 438.7L1324 438.7L1326 438.8L1328 438.8L1330 438.8L1332 438.8L1334 438.9L1336 438.9L1338 438.9L1340 438.9L1342 438.9L1344 439.0L1346 439.0L1348 439.0L1350 439.0L1352 439.0L1354 439.1L1356 439.1L1358 439.1L1360 439.1L1362 439.1L1364 439.2L1366 439.2L1368 439.2L1370 439.2L1372 439.2L1374 439.3L1376 439.3L1378 439.3L1380 439.3L1382 439.3L1384 439.4L1386 439.4L1388 439.4L1390 439.4L1392 439.5L1394 439.5L1396 439.5L1398 439.5L1400 439.5L1402 439.6L1404 439.6L1406 439.6L1408 439.6L1410 439.7L1412 439.7L1414 439.7L1416 439.7L1418 439.8L1420 439.8L1422 439.8L1424 439.9L1426 439.9L1428 439.9L1430 440.0L1432 440.0L1434 440.0L1436 440.1L1438 440.1L1440 440.1L1442 440.2L1444 440.2L1446 440.2L1448 440.3L1450 440.3L1452 440.4L1454 440.4L1456 440.4L1458 440.5L1460 440.5L1462 440.6L1464 440.6L1466 440.6L1468 440.7L1470 440.7L1472 440.8L1474 440.8L1476 440.8L1478 440.9L1480 440.9L1482 440.9L1484 441.0L1486 441.0L1488 441.1L1490 441.1L1492 441.1L1494 441.2L1496 441.2L1498 441.2L1500 441.3L1502 441.3L1504 441.3L1506 441.4L1508 441.4L1510 441.4L1512 441.4L1514 441.5L1516 441.5L1518 441.5L1520 441.5L1522 441.6L1524 441.6L1526 441.6L1528 441.6L1530 441.6L1532 441.7L1534 441.7L1536 441.7L1538 441.7L1540 441.7L1542 441.7L1544 441.7L1546 441.7L1548 441.7L1550 441.6L1552 441.6L1554 441.6L1556 441.6L1558 441.5L1560 441.5L1562 441.5L1564 441.4L1566 441.4L1568 441.3L1570 441.3L1572 441.2L1574 441.1L1576 441.1L1578 441.0L1580 441.0L1582 440.9L1584 440.8L1586 440.8L1588 440.7L1590 440.7L1592 440.6L1594 440.5L1596 440.5L1598 440.4L1600 440.3L1602 440.2L1604 440.2L1606 440.1L1608 440.0L1610 440.0L1612 439.9L1614 439.8L1616 439.7L1618 439.6L1620 439.6L1622 439.5L1624 439.4L1626 439.3L1628 439.3L1630 439.2L1632 439.1L1634 439.0L1636 439.0L1638 438.9L1640 438.8L1642 438.7L1644 438.7L1646 438.6L1648 438.5L1650 438.4L1652 438.3L1654 438.3L1656 438.2L1658 438.1L1660 438.0L1662 437.9L1664 437.8L1666 437.7L1668 437.7L1670 437.6L1672 437.5L1674 437.4L1676 437.3L1678 437.2L1680 437.1L1682 437.1L1684 437.0L1686 436.9L1688 436.9L1690 436.8L1692 436.7L1694 436.7L1696 436.6L1698 436.6L1700 436.6L1702 436.5L1704 436.5L1706 436.5L1708 436.5L1710 436.5L1712 436.5L1714 436.5L1716 436.6L1718 436.7L1720 436.8L1722 437.0L1724 437.1L1726 437.3L1728 437.6L1730 437.9L1732 438.2L1734 438.5L1736 438.9L1738 439.3L1740 439.8L1742 440.2L1744 440.8L1746 441.3L1748 441.9L1750 442.5L1752 443.2L1754 443.8L1756 444.5L1758 445.3L1760 446.0L1762 446.8L1764 447.6L1766 448.5L1768 449.3L1770 450.2L1772 451.2L1774 452.1L1776 453.1L1778 454.1L1780 455.2L1782 456.2L1784 457.4L1786 458.5L1788 459.7L1790 460.9L1792 462.1L1794 463.4L1796 464.7L1798 466.1L1800 467.5L1802 469.0L1804 470.5L1806 472.1L1808 473.8L1810 475.6L1812 477.4L1814 479.3L1816 481.3L1818 483.4L1820 485.6L1822 487.8L1824 490.2L1826 492.6L1828 495.2L1830 497.9L1832 500.7L1834 503.6L1835 505.1L1836 506.7L1837 508.2L1838 509.8L1839 511.5L1840 513.2L1841 514.9L1842 516.6L1843 518.4L1844 520.1L1845 522.0L1846 523.8L1847 525.6L1848 527.5L1849 529.4L1850 531.3L1851 533.2L1852 535.2L1853 537.2L1854 539.1L1855 541.2L1856 543.2L1857 545.3L1858 547.5L1859 549.7L1860 551.9L1861 554.2L1862 556.4L1863 558.7L1864 561.0L1865 563.2L1866 565.4L1867 567.6L1868 569.8L1869 572.0L1870 574.3L1871 576.5L1872 578.8L1873 581.1L1874 583.5L1875 585.9L1876 588.3L1877 590.7L1878 593.3L1879 595.9L1880 598.6L1881 601.5L1882 604.5L1883 607.6L1884 610.9L1885 614.2L1886 617.6L1887 621.0L1888 624.4L1889 627.6L1890 630.8L1891 633.8L1892 636.8L1893 639.7L1894 642.5L1895 645.4L1896 648.3L1897 651.2L1898 654.2L1899 657.3L1900 660.5L1901 663.8L1902 667.1L1903 670.5L1904 673.8L1905 677.1L1906 680.4L1907 683.8L1908 687.1L1909 690.1L1910 692.7L1911 694.7L1913 696.9L1915 696.3L1917 693.6L1918 691.9L1919 690.2L1920 688.2L1921 686.0L1922 683.4L1923 680.6L1924 677.4L1925 673.8L1926 669.9L1927 665.6L1928 661.0L1929 655.9L1930 650.7L1931 645.1L1932 639.4L1933 633.5L1934 627.5L1935 621.4L1936 615.5L1937 609.6L1938 603.7L1939 597.9L1940 592.1L1941 586.2L1942 580.2L1943 574.1L1944 567.7L1945 561.2L1946 554.6L1947 547.9L1948 541.4L1949 535.1L1950 529.2L1951 523.7L1952 518.6L1953 513.6L1954 508.6L1955 503.4L1956 498.2L1957 492.9L1958 487.7L1959 482.7L1960 478.2L1961 474.2L1962 470.8L1963 468.0L1964 465.7L1965 463.7L1966 461.9L1968 459.2L1970 457.2L1972 455.7L1974 454.7L1976 454.0L1978 453.4L1980 453.0L1982 452.7L1984 452.6L1986 452.6L1988 452.6L1990 452.7L1992 452.7L1994 452.7L1996 452.7L1998 452.7L2000 452.7L2002 452.7L2004 452.7L2006 452.7L2008 452.7L2010 452.7L2012 452.7L2014 452.7L2016 452.8L2018 452.8L2020 452.8L2022 452.8L2024 452.8L2026 452.8L2028 452.8L2030 452.8L2032 452.9L2034 452.9L2036 452.9L2038 452.9L2040 452.9L2042 452.9L2044 453.0L2046 453.0L2048 453.0L2050 453.0L2052 453.0L2054 453.0L2056 453.0L2058 453.1L2060 453.1L2062 453.1L2064 453.1L2066 453.1L2068 453.1L2070 453.1L2072 453.2L2074 453.2L2076 453.2L2078 453.2L2080 453.2L2082 453.2L2084 453.2L2086 453.3L2088 453.3L2090 453.3L2092 453.3L2094 453.3L2096 453.3L2098 453.3L2100 453.4L2102 453.4L2104 453.4L2106 453.4L2108 453.4L2110 453.4L2112 453.4L2114 453.5L2116 453.5L2118 453.5L2120 453.5L2122 453.5L2124 453.5L2126 453.5L2128 453.6L2130 453.6L2132 453.6L2134 453.6L2136 453.6L2138 453.6L2140 453.7L2142 453.7L2144 453.7L2146 453.7L2148 453.7L2150 453.7L2152 453.8L2154 453.8L2156 453.8L2158 453.8L2160 453.8L2162 453.8L2164 453.9L2166 453.9L2168 453.9L2170 453.9L2172 453.9L2174 453.9L2176 454.0L2178 454.0L2180 454.0L2182 454.0L2184 454.0L2186 454.0" stroke="#0000ff"/>
<path d="M186 530.5L188 530.5L190 530.5L192 530.5L194 530.5L196 530.5L198 530.5L200 530.5L202 530.5L204 530.5L206 530.5L208 530.5L210 530.5L212 530.6L214 530.6L216 530.6L218 530.6L220 530.6L222 530.6L224 530.6L226 530.6L228 530.6L230 530.6L232 530.6L234 530.6L236 530.6L238 530.7L240 530.7L242 530.7L244 530.7L246 530.8L248 530.8L250 530.8L252 530.9L254 530.9L256 531.0L258 531.0L260 531.1L262 531.2L264 531.2L266 531.3L268 531.4L270 531.5L272 531.5L274 531.6L276 531.7L278 531.8L280 531.9L282 531.9L284 532.0L286 532.1L288 532.2L290 532.3L292 532.4L294 532.5L296 532.5L298 532.6L300 532.7L302 532.8L304 532.9L306 533.0L308 533.1L310 533.3L312 533.4L314 533.5L316 533.6L318 533.7L320 533.8L322 534.0L324 534.1L326 534.3L328 534.4L330 534.6L332 534.7L334 534.9L336 535.1L338 535.2L340 535.4L342 535.6L344 535.8L346 536.0L348 536.3L350 536.5L352 536.8L354 537.0L356 537.3L358 537.6L360 537.9L362 538.2L364 538.6L366 539.0L368 539.4L370 539.8L372 540.2L374 540.6L376 541.1L378 541.6L380 542.1L382 542.6L384 543.1L386 543.6L388 544.1L390 544.7L392 545.2L394 545.7L396 546.2L398 546.7L400 547.1L402 547.5L404 547.9L406 548.3L408 548.6L410 548.9L412 549.2L414 549.4L416 549.6L418 549.7L420 549.9L422 550.0L424 550.0L426 550.0L428 550.0L430 550.0L432 550.0L434 549.9L436 549.8L438 549.7L440 549.6L442 549.5L444 549.3L446 549.2L448 549.1L450 548.9L452 548.8L454 548.6L456 548.4L458 548.3L460 548.1L462 548.0L464 547.8L466 547.7L468 547.6L470 547.4L472 547.3L474 547.2L476 547.0L478 546.9L480 546.8L482 546.7L484 546.5L486 546.4L488 546.3L490 546.1L492 546.0L494 545.9L496 545.7L498 545.6L500 545.5L502 545.3L504 545.2L506 545.0L508 544.9L510 544.7L512 544.6L514 544.4L516 544.3L518 544.1L520 544.0L522 543.8L524 543.6L526 543.5L528 543.3L530 543.2L532 543.0L534 542.8L536 542.7L538 542.5L540 542.3L542 542.1L544 541.9L546 541.7L548 541.5L550 541.3L552 541.0L554 540.8L556 540.5L558 540.2L560 539.9L562 539.6L564 539.3L566 538.9L568 538.5L570 538.2L572 537.7L574 537.3L576 536.9L578 536.4L580 535.9L582 535.4L584 534.9L586 534.3L588 533.8L590 533.2L592 532.6L594 531.9L596 531.3L598 530.6L600 529.9L602 529.2L604 528.4L606 527.6L608 526.8L610 526.0L612 525.1L614 524.2L616 523.3L618 522.3L620 521.3L622 520.3L624 519.3L626 518.2L628 517.2L630 516.1L632 514.9L634 513.8L636 512.6L638 511.4L640 510.2L642 508.9L644 507.6L646 506.4L648 505.1L650 503.8L652 502.5L654 501.2L656 499.9L658 498.6L660 497.3L662 496.0L664 494.8L666 493.6L668 492.3L670 491.2L672 490.0L674 488.9L676 487.8L678 486.8L680 485.8L682 484.9L684 484.0L686 483.1L688 482.3L690 481.6L692 480.8L694 480.2L696 479.5L698 479.0L700 478.4L702 478.0L704 477.6L706 477.3L708 477.0L710 476.8L712 476.6L714 476.5L716 476.5L718 476.5L720 476.7L722 476.8L724 477.1L726 477.4L728 477.8L730 478.3L732 479.0L734 479.8L736 480.7L738 481.7L740 482.8L742 483.9L744 485.0L746 486.1L748 487.3L750 488.6L752 489.8L754 491.1L756 492.3L758 493.6L760 494.9L762 496.1L764 497.4L766 498.6L768 499.8L770 501.0L772 502.3L774 503.5L776 504.7L778 505.9L780 507.1L782 508.3L784 509.5L786 510.7L788 511.9L790 513.0L792 514.2L794 515.3L796 516.5L798 517.6L800 518.7L802 519.8L804 520.8L806 521.8L808 522.8L810 523.7L812 524.6L814 525.5L816 526.3L818 527.1L820 527.9L822 528.6L824 529.3L826 530.0L828 530.6L830 531.2L832 531.8L834 532.3L836 532.8L838 533.3L840 533.7L842 534.1L844 534.5L846 534.8L848 535.2L850 535.5L852 535.8L854 536.0L856 536.3L858 536.5L860 536.7L862 536.9L864 537.1L866 537.3L868 537.4L870 537.6L872 537.7L874 537.9L876 538.0L878 538.2L880 538.3L882 538.4L884 538.5L886 538.6L888 538.8L890 538.9L892 539.0L894 539.1L896 539.2L898 539.3L900 539.3L902 539.4L904 539.5L906 539.6L908 539.7L910 539.8L912 539.8L914 539.9L916 540.0L918 540.1L920 540.1L922 540.2L924 540.3L926 540.3L928 540.4L930 540.4L932 540.5L934 540.6L936 540.6L938 540.7L940 540.7L942 540.8L944 540.8L946 540.9L948 540.9L950 541.0L952 541.0L954 541.1L956 541.1L958 541.2L960 541.2L962 541.3L964 541.3L966 541.4L968 541.4L970 541.4L972 541.5L974 541.5L976 541.6L978 541.6L980 541.6L982 541.7L984 541.7L986 541.7L988 541.8L990 541.8L992 541.9L994 541.9L996 541.9L998 542.0L1000 542.0L1002 542.1L1004 542.1L1006 542.1L1008 542.2L1010 542.2L1012 542.3L1014 542.3L1016 542.3L1018 542.4L1020 542.4L1022 542.5L1024 542.5L1026 542.6L1028 542.6L1030 542.7L1032 542.7L1034 542.8L1036 542.8L1038 542.8L1040 542.9L1042 542.9L1044 543.0L1046 543.0L1048 543.1L1050 543.1L1052 543.2L1054 543.2L1056 543.3L1058 543.3L1060 543.4L1062 543.4L1064 543.5L1066 543.5L1068 543.6L1070 543.6L1072 543.7L1074 543.7L1076 543.8L1078 543.8L1080 543.9L1082 543.9L1084 544.0L1086 544.0L1088 544.1L1090 544.1L1092 544.2L1094 544.2L1096 544.3L1098 544.3L1100 544.4L1102 544.4L1104 544.5L1106 544.5L1108 544.5L1110 544.6L1112 544.6L1114 544.7L1116 544.7L1118 544.8L1120 544.8L1122 544.9L1124 544.9L1126 545.0L1128 545.0L1130 545.1L1132 545.1L1134 545.2L1136 545.2L1138 545.2L1140 545.3L1142 545.3L1144 545.4L1146 545.4L1148 545.5L1150 545.5L1152 545.6L1154 545.6L1156 545.6L1158 545.7L1160 545.7L1162 545.8L1164 545.8L1166 545.8L1168 545.9L1170 545.9L1172 546.0L1174 546.0L1176 546.0L1178 546.1L1180 546.1L1182 546.1L1184 546.2L1186 546.2L1188 546.2L1190 546.3L1192 546.3L1194 546.4L1196 546.4L1198 546.4L1200 546.5L1202 546.5L1204 546.5L1206 546.6L1208 546.6L1210 546.6L1212 546.7L1214 546.7L1216 546.7L1218 546.8L1220 546.8L1222 546.8L1224 546.9L1226 546.9L1228 546.9L1230 547.0L1232 547.0L1234 547.0L1236 547.1L1238 547.1L1240 547.1L1242 547.2L1244 547.2L1246 547.2L1248 547.3L1250 547.3L1252 547.3L1254 547.3L1256 547.4L1258 547.4L1260 547.4L1262 547.5L1264 547.5L1266 547.5L1268 547.6L1270 547.6L1272 547.6L1274 547.7L1276 547.7L1278 547.7L1280 547.7L1282 547.8L1284 547.8L1286 547.8L1288 547.9L1290 547.9L1292 547.9L1294 547.9L1296 548.0L1298 548.0L1300 548.0L1302 548.1L1304 548.1L1306 548.1L1308 548.1L1310 548.2L1312 548.2L1314 548.2L1316 548.3L1318 548.3L1320 548.3L1322 548.3L1324 548.4L1326 548.4L1328 548.4L1330 548.4L1332 548.5L1334 548.5L1336 548.5L1338 548.5L1340 548.6L1342 548.6L1344 548.6L1346 548.6L1348 548.7L1350 548.7L1352 548.7L1354 548.7L1356 548.8L1358 548.8L1360 548.8L1362 548.8L1364 548.9L1366 548.9L1368 548.9L1370 548.9L1372 549.0L1374 549.0L1376 549.0L1378 549.0L1380 549.0L1382 549.1L1384 549.1L1386 549.1L1388 549.1L1390 549.2L1392 549.2L1394 549.2L1396 549.2L1398 549.3L1400 549.3L1402 549.3L1404 549.3L1406 549.3L1408 549.4L1410 549.4L1412 549.4L1414 549.4L1416 549.5L1418 549.5L1420 549.5L1422 549.5L1424 549.6L1426 549.6L1428 549.6L1430 549.6L1432 549.7L1434 549.7L1436 549.7L1438 549.7L1440 549.7L1442 549.8L1444 549.8L1446 549.8L1448 549.8L1450 549.9L1452 549.9L1454 549.9L1456 549.9L1458 550.0L1460 550.0L1462 550.0L1464 550.0L1466 550.1L1468 550.1L1470 550.1L1472 550.1L1474 550.1L1476 550.2L1478 550.2L1480 550.2L1482 550.2L1484 550.3L1486 550.3L1488 550.3L1490 550.3L1492 550.3L1494 550.4L1496 550.4L1498 550.4L1500 550.4L1502 550.4L1504 550.5L1506 550.5L1508 550.5L1510 550.5L1512 550.5L1514 550.6L1516 550.6L1518 550.6L1520 550.6L1522 550.6L1524 550.6L1526 550.7L1528 550.7L1530 550.7L1532 550.7L1534 550.7L1536 550.7L1538 550.8L1540 550.8L1542 550.8L1544 550.8L1546 550.8L1548 550.8L1550 550.9L1552 550.9L1554 550.9L1556 550.9L1558 550.9L1560 550.9L1562 550.9L1564 550.9L1566 551.0L1568 551.0L1570 551.0L1572 551.0L1574 551.0L1576 551.0L1578 551.0L1580 551.0L1582 551.0L1584 551.0L1586 551.0L1588 551.1L1590 551.1L1592 551.1L1594 551.1L1596 551.1L1598 551.1L1600 551.1L1602 551.1L1604 551.1L1606 551.1L1608 551.1L1610 551.1L1612 551.1L1614 551.1L1616 551.1L1618 551.1L1620 551.1L1622 551.1L1624 551.1L1626 551.1L1628 551.1L1630 551.1L1632 551.1L1634 551.1L1636 551.1L1638 551.1L1640 551.1L1642 551.1L1644 551.1L1646 551.1L1648 551.1L1650 551.1L1652 551.1L1654 551.1L1656 551.1L1658 551.1L1660 551.1L1662 551.1L1664 551.1L1666 551.1L1668 551.1L1670 551.1L1672 551.1L1674 551.1L1676 551.1L1678 551.1L1680 551.1L1682 551.1L1684 551.1L1686 551.1L1688 551.1L1690 551.1L1692 551.1L1694 551.1L1696 551.1L1698 551.2L1700 551.2L1702 551.3L1704 551.3L1706 551.4L1708 551.5L1710 551.6L1712 551.7L1714 551.8L1716 552.0L1718 552.1L1720 552.3L1722 552.5L1724 552.7L1726 553.0L1728 553.2L1730 553.5L1732 553.8L1734 554.1L1736 554.5L1738 554.8L1740 555.2L1742 555.6L1744 556.1L1746 556.5L1748 557.0L1750 557.5L1752 558.0L1754 558.6L1756 559.2L1758 559.8L1760 560.4L1762 561.1L1764 561.7L1766 562.4L1768 563.1L1770 563.9L1772 564.7L1774 565.5L1776 566.3L1778 567.2L1780 568.0L1782 569.0L1784 569.9L1786 570.9L1788 572.0L1790 573.0L1792 574.1L1794 575.3L1796 576.5L1798 577.7L1800 579.0L1802 580.3L1804 581.7L1806 583.2L1808 584.7L1810 586.2L1812 587.9L1814 589.6L1816 591.4L1818 593.2L1820 595.2L1822 597.2L1824 599.3L1826 601.5L1828 603.7L1830 606.1L1832 608.6L1834 611.2L1836 613.8L1838 616.6L1840 619.6L1841 621.1L1842 622.6L1843 624.2L1844 625.8L1845 627.4L1846 629.1L1847 630.8L1848 632.5L1849 634.3L1850 636.1L1851 638.0L1852 639.9L1853 641.8L1854 643.8L1855 645.8L1856 647.9L1857 650.0L1858 652.1L1859 654.3L1860 656.5L1861 658.7L1862 661.0L1863 663.4L1864 665.7L1865 668.1L1866 670.5L1867 673.0L1868 675.5L1869 678.0L1870 680.6L1871 683.2L1872 685.9L1873 688.6L1874 691.3L1875 694.2L1876 697.0L1877 700.0L1878 702.9L1879 705.9L1880 708.9L1881 711.8L1882 714.6L1883 717.4L1884 720.2L1885 722.8L1886 725.5L1887 728.0L1888 730.6L1889 733.2L1890 735.8L1891 738.5L1892 741.4L1893 744.4L1894 747.6L1895 750.8L1896 753.9L1897 757.0L1898 759.8L1899 762.4L1900 764.7L1901 766.7L1903 769.3L1905 770.3L1907 770.1L1909 769.1L1911 767.9L1913 766.9L1915 765.9L1917 765.1L1919 764.2L1921 763.4L1923 762.5L1925 761.7L1927 760.8L1929 760.0L1931 759.2L1933 758.4L1935 757.5L1937 756.5L1939 755.4L1941 754.0L1943 752.5L1945 749.6L1946 747.4L1947 744.6L1948 741.3L1949 737.4L1950 733.2L1951 728.4L1952 723.3L1953 717.8L1954 711.9L1955 705.6L1956 698.8L1957 691.6L1958 684.1L1959 676.4L1960 668.7L1961 661.2L1962 653.8L1963 646.6L1964 639.5L1965 632.6L1966 626.1L1967 620.0L1968 614.2L1969 608.9L1970 604.0L1971 599.7L1972 595.8L1973 592.4L1974 589.3L1975 586.6L1976 584.2L1977 582.1L1978 580.2L1979 578.5L1981 575.7L1983 573.5L1985 571.8L1987 570.4L1989 569.3L1991 568.5L1993 568.0L1995 567.7L1997 567.5L1999 567.2L2001 567.1L2003 566.9L2005 566.8L2007 566.8L2009 566.8L2011 566.8L2013 566.8L2015 566.8L2017 566.8L2019 566.8L2021 566.8L2023 566.8L2025 566.8L2027 566.8L2029 566.8L2031 566.8L2033 566.8L2035 566.8L2037 566.8L2039 566.8L2041 566.8L2043 566.8L2045 566.8L2047 566.8L2049 566.8L2051 566.8L2053 566.8L2055 566.8L2057 566.8L2059 566.8L2061 566.8L2063 566.8L2065 566.8L2067 566.8L2069 566.8L2071 566.8L2073 566.8L2075 566.8L2077 566.8L2079 566.8L2081 566.8L2083 566.8L2085 566.8L2087 566.8L2089 566.8L2091 566.8L2093 566.8L2095 566.8L2097 566.8L2099 566.8L2101 566.8L2103 566.8L2105 566.8L2107 566.8L2109 566.8L2111 566.8L2113 566.8L2115 566.8L2117 566.8L2119 566.8L2121 566.8L2123 566.8L2125 566.8L2127 566.8L2129 566.8L2131 566.8L2133 566.8L2135 566.8L2137 566.8L2139 566.8L2141 566.8L2143 566.8L2145 566.8L2147 566.8L2149 566.8L2151 566.8L2153 566.8L2155 566.8L2157 566.8L2159 566.8L2161 566.8L2163 566.8L2165 566.8L2167 566.8L2169 566.8L2171 566.8L2173 566.8L2175 566.8L2177 566.8L2179 566.8L2181 566.8L2183 566.8L2185 566.8" stroke="#8000ff"/>
<path d="M186 626.8L188 626.8L190 626.8L192 626.8L194 626.9L196 626.9L198 626.9L200 626.9L202 626.9L204 626.9L206 626.9L208 626.9L210 626.9L212 626.9L214 627.0L216 627.0L218 627.0L220 627.0L222 627.0L224 627.0L226 627.1L228 627.1L230 627.1L232 627.1L234 627.2L236 627.2L238 627.2L240 627.2L242 627.3L244 627.3L246 627.3L248 627.4L250 627.4L252 627.4L254 627.5L256 627.6L258 627.6L260 627.7L262 627.8L264 627.9L266 628.0L268 628.1L270 628.2L272 628.4L274 628.5L276 628.7L278 628.8L280 629.0L282 629.2L284 629.4L286 629.6L288 629.8L290 630.0L292 630.2L294 630.4L296 630.6L298 630.8L300 631.1L302 631.3L304 631.5L306 631.8L308 632.0L310 632.3L312 632.6L314 632.9L316 633.2L318 633.5L320 633.8L322 634.1L324 634.5L326 634.8L328 635.2L330 635.6L332 636.0L334 636.3L336 636.7L338 637.1L340 637.5L342 637.9L344 638.3L346 638.7L348 639.1L350 639.5L352 639.9L354 640.2L356 640.6L358 640.9L360 641.3L362 641.6L364 641.9L366 642.2L368 642.4L370 642.7L372 642.9L374 643.1L376 643.3L378 643.5L380 643.7L382 643.9L384 644.0L386 644.2L388 644.3L390 644.4L392 644.5L394 644.6L396 644.7L398 644.8L400 644.9L402 644.9L404 645.0L406 645.1L408 645.2L410 645.2L412 645.3L414 645.3L416 645.4L418 645.4L420 645.5L422 645.5L424 645.5L426 645.6L428 645.6L430 645.6L432 645.6L434 645.6L436 645.6L438 645.6L440 645.6L442 645.5L444 645.5L446 645.5L448 645.5L450 645.4L452 645.4L454 645.4L456 645.4L458 645.3L460 645.3L462 645.3L464 645.2L466 645.2L468 645.1L470 645.1L472 645.1L474 645.0L476 645.0L478 644.9L480 644.8L482 644.8L484 644.7L486 644.6L488 644.6L490 644.5L492 644.4L494 644.3L496 644.2L498 644.1L500 644.0L502 643.8L504 643.7L506 643.6L508 643.4L510 643.3L512 643.2L514 643.0L516 642.8L518 642.7L520 642.5L522 642.3L524 642.1L526 641.9L528 641.7L530 641.5L532 641.3L534 641.1L536 640.8L538 640.6L540 640.3L542 640.0L544 639.7L546 639.4L548 639.1L550 638.7L552 638.4L554 638.0L556 637.6L558 637.3L560 636.8L562 636.4L564 636.0L566 635.5L568 635.1L570 634.6L572 634.1L574 633.6L576 633.1L578 632.6L580 632.0L582 631.5L584 630.9L586 630.3L588 629.8L590 629.2L592 628.6L594 628.0L596 627.4L598 626.8L600 626.1L602 625.5L604 624.9L606 624.2L608 623.5L610 622.8L612 622.0L614 621.3L616 620.5L618 619.7L620 618.8L622 617.9L624 617.0L626 616.1L628 615.2L630 614.2L632 613.3L634 612.3L636 611.3L638 610.3L640 609.3L642 608.3L644 607.2L646 606.2L648 605.2L650 604.2L652 603.2L654 602.2L656 601.3L658 600.3L660 599.3L662 598.4L664 597.4L666 596.4L668 595.5L670 594.5L672 593.5L674 592.6L676 591.6L678 590.6L680 589.6L682 588.6L684 587.6L686 586.6L688 585.5L690 584.5L692 583.4L694 582.4L696 581.3L698 580.2L700 579.1L702 578.0L704 576.8L706 575.7L708 574.6L710 573.6L712 572.6L714 571.6L716 570.7L718 569.8L720 569.0L722 568.2L724 567.5L726 567.0L728 566.7L730 566.7L732 567.0L734 567.5L736 568.3L738 569.3L740 570.6L742 572.0L744 573.6L746 575.4L748 577.4L750 579.5L752 581.9L754 584.3L756 586.8L758 589.4L760 591.9L762 594.5L764 597.0L766 599.5L768 602.0L770 604.3L772 606.5L774 608.6L776 610.6L778 612.5L780 614.3L782 615.9L784 617.4L786 618.8L788 620.0L790 621.2L792 622.2L794 623.1L796 624.0L798 624.8L800 625.5L802 626.2L804 626.8L806 627.4L808 628.0L810 628.5L812 629.0L814 629.4L816 629.9L818 630.3L820 630.7L822 631.0L824 631.4L826 631.7L828 632.0L830 632.3L832 632.6L834 632.9L836 633.1L838 633.4L840 633.6L842 633.9L844 634.1L846 634.3L848 634.6L850 634.8L852 635.0L854 635.2L856 635.4L858 635.5L860 635.7L862 635.9L864 636.0L866 636.2L868 636.3L870 636.4L872 636.6L874 636.7L876 636.8L878 636.9L880 637.0L882 637.1L884 637.2L886 637.3L888 637.4L890 637.5L892 637.5L894 637.6L896 637.7L898 637.8L900 637.9L902 637.9L904 638.0L906 638.1L908 638.1L910 638.2L912 638.3L914 638.3L916 638.4L918 638.4L920 638.5L922 638.5L924 638.6L926 638.6L928 638.7L930 638.7L932 638.8L934 638.8L936 638.9L938 638.9L940 639.0L942 639.0L944 639.1L946 639.1L948 639.2L950 639.2L952 639.2L954 639.3L956 639.3L958 639.4L960 639.4L962 639.5L964 639.5L966 639.5L968 639.6L970 639.6L972 639.7L974 639.7L976 639.7L978 639.8L980 639.8L982 639.9L984 639.9L986 639.9L988 640.0L990 640.0L992 640.0L994 640.1L996 640.1L998 640.2L1000 640.2L1002 640.2L1004 640.3L1006 640.3L1008 640.3L1010 640.4L1012 640.4L1014 640.5L1016 640.5L1018 640.5L1020 640.6L1022 640.6L1024 640.6L1026 640.7L1028 640.7L1030 640.8L1032 640.8L1034 640.8L1036 640.9L1038 640.9L1040 640.9L1042 641.0L1044 641.0L1046 641.1L1048 641.1L1050 641.1L1052 641.2L1054 641.2L1056 641.2L1058 641.3L1060 641.3L1062 641.4L1064 641.4L1066 641.4L1068 641.5L1070 641.5L1072 641.5L1074 641.6L1076 641.6L1078 641.6L1080 641.7L1082 641.7L1084 641.7L1086 641.8L1088 641.8L1090 641.9L1092 641.9L1094 641.9L1096 642.0L1098 642.0L1100 642.0L1102 642.1L1104 642.1L1106 642.1L1108 642.2L1110 642.2L1112 642.2L1114 642.3L1116 642.3L1118 642.3L1120 642.4L1122 642.4L1124 642.5L1126 642.5L1128 642.5L1130 642.6L1132 642.6L1134 642.6L1136 642.7L1138 642.7L1140 642.7L1142 642.8L1144 642.8L1146 642.8L1148 642.9L1150 642.9L1152 642.9L1154 643.0L1156 643.0L1158 643.0L1160 643.1L1162 643.1L1164 643.1L1166 643.2L1168 643.2L1170 643.2L1172 643.3L1174 643.3L1176 643.3L1178 643.4L1180 643.4L1182 643.4L1184 643.4L1186 643.5L1188 643.5L1190 643.5L1192 643.6L1194 643.6L1196 643.6L1198 643.7L1200 643.7L1202 643.7L1204 643.8L1206 643.8L1208 643.8L1210 643.9L1212 643.9L1214 643.9L1216 644.0L1218 644.0L1220 644.0L1222 644.1L1224 644.1L1226 644.1L1228 644.2L1230 644.2L1232 644.2L1234 644.3L1236 644.3L1238 644.3L1240 644.4L1242 644.4L1244 644.4L1246 644.5L1248 644.5L1250 644.5L1252 644.6L1254 644.6L1256 644.6L1258 644.6L1260 644.7L1262 644.7L1264 644.7L1266 644.8L1268 644.8L1270 644.8L1272 644.9L1274 644.9L1276 644.9L1278 645.0L1280 645.0L1282 645.0L1284 645.1L1286 645.1L1288 645.1L1290 645.1L1292 645.2L1294 645.2L1296 645.2L1298 645.3L1300 645.3L1302 645.3L1304 645.4L1306 645.4L1308 645.4L1310 645.4L1312 645.5L1314 645.5L1316 645.5L1318 645.6L1320 645.6L1322 645.6L1324 645.6L1326 645.7L1328 645.7L1330 645.7L1332 645.7L1334 645.8L1336 645.8L1338 645.8L1340 645.9L1342 645.9L1344 645.9L1346 645.9L1348 646.0L1350 646.0L1352 646.0L1354 646.0L1356 646.1L1358 646.1L1360 646.1L1362 646.1L1364 646.1L1366 646.2L1368 646.2L1370 646.2L1372 646.2L1374 646.3L1376 646.3L1378 646.3L1380 646.3L1382 646.3L1384 646.4L1386 646.4L1388 646.4L1390 646.4L1392 646.5L1394 646.5L1396 646.5L1398 646.5L1400 646.5L1402 646.6L1404 646.6L1406 646.6L1408 646.6L1410 646.6L1412 646.7L1414 646.7L1416 646.7L1418 646.7L1420 646.8L1422 646.8L1424 646.8L1426 646.8L1428 646.8L1430 646.9L1432 646.9L1434 646.9L1436 646.9L1438 647.0L1440 647.0L1442 647.0L1444 647.0L1446 647.0L1448 647.1L1450 647.1L1452 647.1L1454 647.1L1456 647.2L1458 647.2L1460 647.2L1462 647.2L1464 647.2L1466 647.3L1468 647.3L1470 647.3L1472 647.3L1474 647.3L1476 647.4L1478 647.4L1480 647.4L1482 647.4L1484 647.4L1486 647.5L1488 647.5L1490 647.5L1492 647.5L1494 647.5L1496 647.6L1498 647.6L1500 647.6L1502 647.6L1504 647.6L1506 647.7L1508 647.7L1510 647.7L1512 647.7L1514 647.7L1516 647.7L1518 647.8L1520 647.8L1522 647.8L1524 647.8L1526 647.8L1528 647.8L1530 647.8L1532 647.9L1534 647.9L1536 647.9L1538 647.9L1540 647.9L1542 647.9L1544 647.9L1546 648.0L1548 648.0L1550 648.0L1552 648.0L1554 648.0L1556 648.0L1558 648.0L1560 648.0L1562 648.0L1564 648.1L1566 648.1L1568 648.1L1570 648.1L1572 648.1L1574 648.1L1576 648.1L1578 648.1L1580 648.1L1582 648.1L1584 648.1L1586 648.1L1588 648.1L1590 648.1L1592 648.1L1594 648.2L1596 648.2L1598 648.2L1600 648.2L1602 648.2L1604 648.2L1606 648.2L1608 648.2L1610 648.2L1612 648.2L1614 648.2L1616 648.2L1618 648.2L1620 648.2L1622 648.2L1624 648.1L1626 648.1L1628 648.1L1630 648.1L1632 648.1L1634 648.1L1636 648.1L1638 648.1L1640 648.1L1642 648.1L1644 648.1L1646 648.1L1648 648.1L1650 648.1L1652 648.1L1654 648.1L1656 648.1L1658 648.1L1660 648.1L1662 648.1L1664 648.1L1666 648.1L1668 648.1L1670 648.1L1672 648.0L1674 648.0L1676 648.0L1678 648.0L1680 648.0L1682 648.0L1684 648.0L1686 648.0L1688 648.0L1690 648.0L1692 648.0L1694 648.0L1696 648.0L1698 648.0L1700 648.0L1702 648.0L1704 648.0L1706 648.0L1708 648.0L1710 648.1L1712 648.1L1714 648.1L1716 648.2L1718 648.2L1720 648.3L1722 648.5L1724 648.6L1726 648.8L1728 649.0L1730 649.3L1732 649.6L1734 649.9L1736 650.3L1738 650.8L1740 651.2L1742 651.8L1744 652.3L1746 652.9L1748 653.6L1750 654.3L1752 655.0L1754 655.8L1756 656.5L1758 657.4L1760 658.2L1762 659.0L1764 659.9L1766 660.8L1768 661.7L1770 662.7L1772 663.6L1774 664.6L1776 665.6L1778 666.6L1780 667.7L1782 668.8L1784 669.9L1786 671.0L1788 672.2L1790 673.4L1792 674.6L1794 675.9L1796 677.1L1798 678.4L1800 679.8L1802 681.2L1804 682.6L1806 684.1L1808 685.6L1810 687.2L1812 688.9L1814 690.6L1816 692.4L1818 694.2L1820 696.1L1822 698.1L1824 700.2L1826 702.4L1828 704.7L1830 707.2L1832 709.7L1834 712.5L1836 715.4L1837 716.9L1838 718.4L1839 720.0L1840 721.6L1841 723.3L1842 725.0L1843 726.8L1844 728.6L1845 730.4L1846 732.2L1847 734.1L1848 736.1L1849 738.0L1850 740.0L1851 742.1L1852 744.1L1853 746.2L1854 748.4L1855 750.5L1856 752.8L1857 755.1L1858 757.4L1859 759.8L1860 762.2L1861 764.7L1862 767.1L1863 769.7L1864 772.2L1865 774.7L1866 777.3L1867 779.9L1868 782.4L1869 785.0L1870 787.6L1871 790.3L1872 793.0L1873 795.7L1874 798.5L1875 801.3L1876 804.1L1877 807.0L1878 810.0L1879 813.0L1880 816.1L1881 819.3L1882 822.6L1883 826.0L1884 829.6L1885 833.3L1886 837.0L1887 840.7L1888 844.4L1889 848.1L1890 851.7L1891 855.2L1892 858.7L1893 862.1L1894 865.4L1895 868.6L1896 871.8L1897 874.9L1898 878.0L1899 881.2L1900 884.2L1901 887.2L1902 889.8L1903 892.0L1905 894.6L1907 894.5L1909 892.0L1910 890.2L1911 888.2L1912 886.0L1913 883.7L1914 881.3L1915 878.9L1916 876.3L1917 873.6L1918 870.7L1919 867.7L1920 864.5L1921 861.1L1922 857.4L1923 853.6L1924 849.5L1925 845.2L1926 840.7L1927 835.9L1928 830.9L1929 825.6L1930 820.1L1931 814.4L1932 808.6L1933 802.8L1934 797.0L1935 791.2L1936 785.3L1937 779.3L1938 773.2L1939 766.7L1940 759.9L1941 752.7L1942 745.2L1943 737.5L1944 729.8L1945 722.4L1946 715.3L1947 708.8L1948 702.9L1949 697.6L1950 693.0L1951 689.0L1952 685.5L1953 682.4L1954 679.7L1955 677.3L1956 675.0L1957 672.9L1958 671.0L1959 669.3L1961 666.4L1963 664.1L1965 662.4L1967 661.1L1969 660.2L1971 659.4L1973 658.9L1975 658.5L1977 658.2L1979 658.1L1981 658.1L1983 658.1L1985 658.1L1987 658.1L1989 658.1L1991 658.1L1993 658.1L1995 658.1L1997 658.1L1999 658.1L2001 658.1L2003 658.1L2005 658.2L2007 658.2L2009 658.2L2011 658.2L2013 658.2L2015 658.2L2017 658.2L2019 658.2L2021 658.2L2023 658.2L2025 658.2L2027 658.3L2029 658.3L2031 658.3L2033 658.3L2035 658.3L2037 658.3L2039 658.3L2041 658.3L2043 658.3L2045 658.3L2047 658.3L2049 658.3L2051 658.4L2053 658.4L2055 658.4L2057 658.4L2059 658.4L2061 658.4L2063 658.4L2065 658.4L2067 658.4L2069 658.4L2071 658.4L2073 658.4L2075 658.5L2077 658.5L2079 658.5L2081 658.5L2083 658.5L2085 658.5L2087 658.5L2089 658.5L2091 658.5L2093 658.5L2095 658.5L2097 658.6L2099 658.6L2101 658.6L2103 658.6L2105 658.6L2107 658.6L2109 658.6L2111 658.6L2113 658.6L2115 658.6L2117 658.6L2119 658.6L2121 658.7L2123 658.7L2125 658.7L2127 658.7L2129 658.7L2131 658.7L2133 658.7L2135 658.7L2137 658.7L2139 658.7L2141 658.8L2143 658.8L2145 658.8L2147 658.8L2149 658.8L2151 658.8L2153 658.8L2155 658.8L2157 658.8L2159 658.8L2161 658.8L2163 658.9L2165 658.9L2167 658.9L2169 658.9L2171 658.9L2173 658.9L2175 658.9L2177 658.9L2179 658.9L2181 658.9L2183 659.0L2185 659.0" stroke="#00ffff"/>
<path d="M186 713.2L188 713.2L190 713.2L192 713.3L194 713.3L196 713.3L198 713.3L200 713.3L202 713.3L204 713.3L206 713.3L208 713.4L210 713.4L212 713.4L214 713.4L216 713.5L218 713.5L220 713.5L222 713.5L224 713.6L226 713.6L228 713.7L230 713.7L232 713.7L234 713.8L236 713.8L238 713.9L240 713.9L242 713.9L244 714.0L246 714.0L248 714.1L250 714.1L252 714.2L254 714.2L256 714.3L258 714.3L260 714.4L262 714.5L264 714.5L266 714.6L268 714.7L270 714.8L272 714.9L274 714.9L276 715.1L278 715.2L280 715.3L282 715.4L284 715.5L286 715.7L288 715.8L290 716.0L292 716.1L294 716.3L296 716.5L298 716.6L300 716.8L302 717.0L304 717.2L306 717.4L308 717.6L310 717.8L312 718.1L314 718.3L316 718.6L318 718.8L320 719.1L322 719.4L324 719.7L326 720.0L328 720.3L330 720.7L332 721.0L334 721.4L336 721.8L338 722.2L340 722.6L342 723.0L344 723.4L346 723.9L348 724.4L350 724.9L352 725.4L354 725.9L356 726.4L358 727.0L360 727.5L362 728.1L364 728.7L366 729.3L368 729.9L370 730.4L372 731.0L374 731.6L376 732.2L378 732.8L380 733.4L382 734.0L384 734.5L386 735.1L388 735.6L390 736.1L392 736.6L394 737.0L396 737.4L398 737.8L400 738.1L402 738.4L404 738.7L406 738.9L408 739.2L410 739.4L412 739.5L414 739.7L416 739.8L418 739.9L420 739.9L422 740.0L424 740.0L426 739.9L428 739.9L430 739.8L432 739.6L434 739.5L436 739.3L438 739.1L440 738.9L442 738.7L444 738.4L446 738.1L448 737.9L450 737.5L452 737.2L454 736.9L456 736.6L458 736.3L460 735.9L462 735.6L464 735.3L466 735.0L468 734.8L470 734.5L472 734.3L474 734.1L476 733.9L478 733.7L480 733.5L482 733.3L484 733.2L486 733.0L488 732.9L490 732.8L492 732.7L494 732.6L496 732.5L498 732.4L500 732.3L502 732.2L504 732.1L506 732.1L508 732.0L510 731.9L512 731.9L514 731.8L516 731.7L518 731.7L520 731.6L522 731.5L524 731.4L526 731.3L528 731.2L530 731.0L532 730.9L534 730.8L536 730.6L538 730.5L540 730.3L542 730.1L544 729.9L546 729.7L548 729.5L550 729.3L552 729.0L554 728.8L556 728.5L558 728.2L560 728.0L562 727.6L564 727.3L566 727.0L568 726.6L570 726.2L572 725.8L574 725.4L576 724.9L578 724.4L580 723.9L582 723.4L584 722.8L586 722.2L588 721.6L590 721.0L592 720.3L594 719.6L596 718.9L598 718.2L600 717.4L602 716.6L604 715.7L606 714.9L608 714.0L610 713.1L612 712.1L614 711.1L616 710.1L618 709.1L620 708.0L622 706.9L624 705.7L626 704.5L628 703.3L630 702.1L632 700.8L634 699.5L636 698.2L638 696.9L640 695.5L642 694.2L644 692.8L646 691.4L648 690.0L650 688.7L652 687.3L654 685.9L656 684.6L658 683.3L660 681.9L662 680.7L664 679.4L666 678.1L668 676.9L670 675.7L672 674.5L674 673.4L676 672.3L678 671.3L680 670.3L682 669.3L684 668.4L686 667.6L688 666.8L690 666.1L692 665.4L694 664.8L696 664.3L698 663.9L700 663.5L702 663.3L704 663.1L706 662.9L708 662.8L710 662.7L712 662.7L714 662.7L716 662.8L718 662.9L720 663.1L722 663.4L724 663.7L726 664.2L728 664.8L730 665.6L732 666.5L734 667.6L736 668.8L738 670.1L740 671.5L742 672.9L744 674.4L746 676.0L748 677.7L750 679.4L752 681.1L754 682.8L756 684.6L758 686.3L760 688.0L762 689.7L764 691.4L766 693.0L768 694.5L770 696.0L772 697.5L774 698.9L776 700.2L778 701.5L780 702.7L782 703.8L784 704.9L786 705.9L788 706.9L790 707.9L792 708.8L794 709.6L796 710.4L798 711.2L800 711.9L802 712.6L804 713.3L806 713.9L808 714.5L810 715.1L812 715.7L814 716.2L816 716.8L818 717.3L820 717.8L822 718.3L824 718.8L826 719.3L828 719.7L830 720.2L832 720.6L834 721.1L836 721.5L838 721.9L840 722.4L842 722.8L844 723.2L846 723.5L848 723.9L850 724.3L852 724.6L854 725.0L856 725.3L858 725.6L860 725.9L862 726.1L864 726.4L866 726.6L868 726.9L870 727.1L872 727.3L874 727.4L876 727.6L878 727.8L880 727.9L882 728.1L884 728.2L886 728.3L888 728.5L890 728.6L892 728.7L894 728.8L896 729.0L898 729.1L900 729.2L902 729.3L904 729.4L906 729.5L908 729.6L910 729.7L912 729.8L914 729.9L916 730.0L918 730.0L920 730.1L922 730.2L924 730.3L926 730.4L928 730.4L930 730.5L932 730.6L934 730.7L936 730.7L938 730.8L940 730.9L942 731.0L944 731.0L946 731.1L948 731.2L950 731.2L952 731.3L954 731.3L956 731.4L958 731.5L960 731.5L962 731.6L964 731.7L966 731.7L968 731.8L970 731.8L972 731.9L974 731.9L976 732.0L978 732.1L980 732.1L982 732.2L984 732.2L986 732.3L988 732.3L990 732.4L992 732.5L994 732.5L996 732.6L998 732.6L1000 732.7L1002 732.8L1004 732.8L1006 732.9L1008 732.9L1010 733.0L1012 733.1L1014 733.1L1016 733.2L1018 733.2L1020 733.3L1022 733.4L1024 733.4L1026 733.5L1028 733.6L1030 733.6L1032 733.7L1034 733.8L1036 733.8L1038 733.9L1040 734.0L1042 734.0L1044 734.1L1046 734.2L1048 734.2L1050 734.3L1052 734.4L1054 734.4L1056 734.5L1058 734.6L1060 734.6L1062 734.7L1064 734.8L1066 734.9L1068 734.9L1070 735.0L1072 735.1L1074 735.1L1076 735.2L1078 735.3L1080 735.3L1082 735.4L1084 735.5L1086 735.5L1088 735.6L1090 735.7L1092 735.8L1094 735.8L1096 735.9L1098 736.0L1100 736.0L1102 736.1L1104 736.2L1106 736.3L1108 736.3L1110 736.4L1112 736.5L1114 736.5L1116 736.6L1118 736.7L1120 736.8L1122 736.8L1124 736.9L1126 737.0L1128 737.0L1130 737.1L1132 737.2L1134 737.3L1136 737.3L1138 737.4L1140 737.5L1142 737.6L1144 737.6L1146 737.7L1148 737.8L1150 737.9L1152 737.9L1154 738.0L1156 738.1L1158 738.1L1160 738.2L1162 738.3L1164 738.4L1166 738.4L1168 738.5L1170 738.6L1172 738.7L1174 738.7L1176 738.8L1178 738.9L1180 739.0L1182 739.0L1184 739.1L1186 739.2L1188 739.3L1190 739.3L1192 739.4L1194 739.5L1196 739.6L1198 739.7L1200 739.7L1202 739.8L1204 739.9L1206 740.0L1208 740.0L1210 740.1L1212 740.2L1214 740.3L1216 740.3L1218 740.4L1220 740.5L1222 740.6L1224 740.7L1226 740.7L1228 740.8L1230 740.9L1232 741.0L1234 741.0L1236 741.1L1238 741.2L1240 741.3L1242 741.4L1244 741.4L1246 741.5L1248 741.6L1250 741.7L1252 741.8L1254 741.8L1256 741.9L1258 742.0L1260 742.1L1262 742.2L1264 742.2L1266 742.3L1268 742.4L1270 742.5L1272 742.6L1274 742.6L1276 742.7L1278 742.8L1280 742.9L1282 743.0L1284 743.0L1286 743.1L1288 743.2L1290 743.3L1292 743.4L1294 743.4L1296 743.5L1298 743.6L1300 743.7L1302 743.8L1304 743.9L1306 743.9L1308 744.0L1310 744.1L1312 744.2L1314 744.3L1316 744.4L1318 744.4L1320 744.5L1322 744.6L1324 744.7L1326 744.8L1328 744.8L1330 744.9L1332 745.0L1334 745.1L1336 745.2L1338 745.3L1340 745.4L1342 745.4L1344 745.5L1346 745.6L1348 745.7L1350 745.8L1352 745.9L1354 745.9L1356 746.0L1358 746.1L1360 746.2L1362 746.3L1364 746.4L1366 746.5L1368 746.5L1370 746.6L1372 746.7L1374 746.8L1376 746.9L1378 747.0L1380 747.1L1382 747.1L1384 747.2L1386 747.3L1388 747.4L1390 747.5L1392 747.6L1394 747.7L1396 747.8L1398 747.9L1400 748.0L1402 748.1L1404 748.1L1406 748.2L1408 748.3L1410 748.4L1412 748.5L1414 748.6L1416 748.7L1418 748.8L1420 748.9L1422 749.0L1424 749.1L1426 749.2L1428 749.3L1430 749.4L1432 749.5L1434 749.6L1436 749.7L1438 749.7L1440 749.8L1442 749.9L1444 750.0L1446 750.1L1448 750.2L1450 750.3L1452 750.4L1454 750.5L1456 750.6L1458 750.7L1460 750.7L1462 750.8L1464 750.9L1466 751.0L1468 751.1L1470 751.2L1472 751.3L1474 751.3L1476 751.4L1478 751.5L1480 751.6L1482 751.7L1484 751.8L1486 751.9L1488 751.9L1490 752.0L1492 752.1L1494 752.2L1496 752.3L1498 752.4L1500 752.5L1502 752.6L1504 752.7L1506 752.8L1508 752.8L1510 752.9L1512 753.0L1514 753.1L1516 753.2L1518 753.3L1520 753.4L1522 753.5L1524 753.5L1526 753.6L1528 753.7L1530 753.8L1532 753.9L1534 753.9L1536 754.0L1538 754.1L1540 754.2L1542 754.2L1544 754.3L1546 754.4L1548 754.4L1550 754.5L1552 754.5L1554 754.6L1556 754.6L1558 754.7L1560 754.7L1562 754.8L1564 754.8L1566 754.8L1568 754.9L1570 754.9L1572 754.9L1574 754.9L1576 755.0L1578 755.0L1580 755.0L1582 755.0L1584 755.0L1586 755.1L1588 755.1L1590 755.1L1592 755.1L1594 755.1L1596 755.1L1598 755.1L1600 755.1L1602 755.2L1604 755.2L1606 755.2L1608 755.2L1610 755.2L1612 755.2L1614 755.2L1616 755.2L1618 755.2L1620 755.2L1622 755.3L1624 755.3L1626 755.3L1628 755.3L1630 755.3L1632 755.3L1634 755.3L1636 755.3L1638 755.3L1640 755.4L1642 755.4L1644 755.4L1646 755.4L1648 755.4L1650 755.4L1652 755.4L1654 755.5L1656 755.5L1658 755.5L1660 755.5L1662 755.5L1664 755.6L1666 755.6L1668 755.6L1670 755.6L1672 755.7L1674 755.7L1676 755.7L1678 755.7L1680 755.8L1682 755.8L1684 755.8L1686 755.9L1688 755.9L1690 755.9L1692 756.0L1694 756.1L1696 756.1L1698 756.2L1700 756.3L1702 756.4L1704 756.5L1706 756.6L1708 756.7L1710 756.8L1712 757.0L1714 757.1L1716 757.3L1718 757.5L1720 757.7L1722 757.9L1724 758.2L1726 758.5L1728 758.8L1730 759.1L1732 759.4L1734 759.8L1736 760.2L1738 760.6L1740 761.0L1742 761.5L1744 761.9L1746 762.5L1748 763.0L1750 763.6L1752 764.2L1754 764.8L1756 765.5L1758 766.1L1760 766.9L1762 767.6L1764 768.4L1766 769.2L1768 770.0L1770 770.9L1772 771.8L1774 772.7L1776 773.7L1778 774.7L1780 775.8L1782 776.9L1784 778.0L1786 779.2L1788 780.4L1790 781.6L1792 782.9L1794 784.3L1796 785.7L1798 787.2L1800 788.7L1802 790.3L1804 792.0L1806 793.7L1808 795.5L1810 797.4L1812 799.3L1814 801.4L1816 803.5L1818 805.7L1820 808.0L1822 810.4L1824 813.0L1826 815.6L1828 818.4L1830 821.3L1831 822.8L1832 824.4L1833 825.9L1834 827.6L1835 829.2L1836 830.9L1837 832.6L1838 834.4L1839 836.2L1840 838.1L1841 839.9L1842 841.9L1843 843.9L1844 845.9L1845 848.0L1846 850.1L1847 852.3L1848 854.5L1849 856.8L1850 859.1L1851 861.5L1852 863.9L1853 866.4L1854 868.9L1855 871.5L1856 874.2L1857 876.9L1858 879.7L1859 882.6L1860 885.5L1861 888.5L1862 891.6L1863 894.7L1864 897.9L1865 901.1L1866 904.3L1867 907.5L1868 910.8L1869 914.1L1870 917.4L1871 920.8L1872 924.4L1873 928.0L1874 931.8L1875 935.7L1876 939.7L1877 943.7L1878 947.7L1879 951.7L1880 955.7L1881 959.7L1882 963.6L1883 967.6L1884 971.6L1885 975.6L1886 979.7L1887 983.9L1888 988.1L1889 992.2L1890 996.1L1891 999.9L1892 1003.5L1893 1006.8L1894 1009.7L1895 1012.3L1896 1014.6L1897 1016.8L1898 1018.9L1899 1020.9L1900 1022.8L1901 1024.6L1903 1027.4L1905 1028.7L1907 1028.3L1909 1026.2L1910 1024.8L1911 1023.1L1912 1021.1L1913 1018.8L1914 1016.1L1915 1013.1L1916 1009.8L1917 1006.1L1918 1002.1L1919 997.8L1920 993.4L1921 988.9L1922 984.4L1923 979.8L1924 974.9L1925 969.7L1926 964.2L1927 958.3L1928 951.9L1929 945.0L1930 937.6L1931 929.7L1932 921.6L1933 913.4L1934 905.2L1935 897.2L1936 889.3L1937 881.6L1938 874.0L1939 866.5L1940 859.0L1941 851.6L1942 844.2L1943 836.9L1944 829.9L1945 823.4L1946 817.4L1947 812.0L1948 807.3L1949 803.2L1950 799.6L1951 796.6L1952 794.0L1953 791.8L1954 789.9L1955 788.2L1957 785.6L1959 783.6L1961 781.9L1963 780.6L1965 779.4L1967 778.5L1969 777.6L1971 776.9L1973 776.4L1975 776.2L1977 776.1L1979 776.2L1981 776.2L1983 776.2L1985 776.2L1987 776.2L1989 776.2L1991 776.3L1993 776.3L1995 776.3L1997 776.3L1999 776.3L2001 776.4L2003 776.4L2005 776.4L2007 776.4L2009 776.5L2011 776.5L2013 776.5L2015 776.6L2017 776.6L2019 776.6L2021 776.6L2023 776.6L2025 776.7L2027 776.7L2029 776.7L2031 776.7L2033 776.8L2035 776.8L2037 776.8L2039 776.8L2041 776.8L2043 776.9L2045 776.9L2047 776.9L2049 776.9L2051 776.9L2053 777.0L2055 777.0L2057 777.0L2059 777.0L2061 777.0L2063 777.1L2065 777.1L2067 777.1L2069 777.1L2071 777.1L2073 777.2L2075 777.2L2077 777.2L2079 777.2L2081 777.2L2083 777.3L2085 777.3L2087 777.3L2089 777.3L2091 777.3L2093 777.4L2095 777.4L2097 777.4L2099 777.4L2101 777.4L2103 777.5L2105 777.5L2107 777.5L2109 777.5L2111 777.5L2113 777.6L2115 777.6L2117 777.6L2119 777.6L2121 777.6L2123 777.7L2125 777.7L2127 777.7L2129 777.7L2131 777.7L2133 777.8L2135 777.8L2137 777.8L2139 777.8L2141 777.8L2143 777.9L2145 777.9L2147 777.9L2149 777.9L2151 777.9L2153 778.0L2155 778.0L2157 778.0L2159 778.0L2161 778.1L2163 778.1L2165 778.1L2167 778.1L2169 778.1L2171 778.2L2173 778.2L2175 778.2L2177 778.2L2179 778.2L2181 778.3L2183 778.3L2185 778.3" stroke="#ff8000"/>
</g></g>
<g fill="#000">
<rect x="184.5" y="20.0" width="7.5" height="1424.0"/>
<rect x="2181.0" y="20.0" width="7.5" height="1424.0"/>
<rect x="184.5" y="20.0" width="2004.0" height="5.0"/>
<rect x="184.5" y="1438.5" width="2004.0" height="5.5"/>
<rect x="312.60" y="1443.0" width="7.2" height="32.0"/>
<rect x="634.88" y="1443.0" width="7.2" height="32.0"/>
<rect x="957.16" y="1443.0" width="7.2" height="32.0"/>
<rect x="1279.44" y="1443.0" width="7.2" height="32.0"/>
<rect x="1601.72" y="1443.0" width="7.2" height="32.0"/>
<rect x="1924.00" y="1443.0" width="7.2" height="32.0"/>
<rect x="473.74" y="1443.0" width="7.2" height="13.5"/>
<rect x="796.02" y="1443.0" width="7.2" height="13.5"/>
<rect x="1118.30" y="1443.0" width="7.2" height="13.5"/>
<rect x="1440.58" y="1443.0" width="7.2" height="13.5"/>
<rect x="1762.86" y="1443.0" width="7.2" height="13.5"/>
<rect x="2085.14" y="1443.0" width="7.2" height="13.5"/>
</g>
<g font-family="'Liberation Sans', sans-serif" fill="#000" style="font-kerning:none;font-variant-ligatures:none;text-rendering:geometricPrecision">
<text x="316.4" y="1545.5" font-size="62.5" text-anchor="middle">50</text>
<text x="638.7" y="1545.5" font-size="62.5" text-anchor="middle">75</text>
<text x="961.0" y="1545.5" font-size="62.5" text-anchor="middle">100</text>
<text x="1283.2" y="1545.5" font-size="62.5" text-anchor="middle">125</text>
<text x="1605.5" y="1545.5" font-size="62.5" text-anchor="middle">150</text>
<text x="1927.8" y="1545.5" font-size="62.5" text-anchor="middle">175</text>
<text x="862" y="1682.5" font-size="84.3">Temperature (<tspan font-size="60" dy="-33.5">o</tspan><tspan dy="33.5">C)</tspan></text>
<text transform="translate(79.2,1077.5) rotate(-90)" font-size="84.2">Heat flow (W/g)</text>
<text transform="translate(69.5,419) rotate(-90)" font-size="63">exo</text>
<text x="387.5" y="86.5" font-size="53" letter-spacing="-0.45">Glass transition</text>
<text x="1824" y="95.5" font-size="52" letter-spacing="0.8">Melting</text>
<text x="480.5" y="1127" font-size="52" letter-spacing="0.32">Cold crystallization</text>
<text x="250.5" y="1277.5" font-size="61" letter-spacing="1.8">0.5 W/g</text>
<text x="741" y="1221.2" font-size="51.5" letter-spacing="0.7">PLLA</text>
<text x="741" y="1280.2" font-size="51.5" letter-spacing="0.7">PL-CNT</text>
<text x="741" y="1339.2" font-size="51.5" letter-spacing="0.7">PL-g-CNT</text>
<text x="1311.5" y="1221.2" font-size="51.5" letter-spacing="0.55">PL-LPSQ5</text>
<text x="1311.5" y="1280.2" font-size="51.5" letter-spacing="0.55">PL-LPSQ5-CNT</text>
<text x="1311.5" y="1339.2" font-size="51.5" letter-spacing="0.55">PL-LPSQ10</text>
<text x="1311.5" y="1398.2" font-size="51.5" letter-spacing="0.55">PL-LPSQ10-CNT</text>
</g>
<line x1="607" y1="1203.7" x2="731" y2="1203.7" stroke="#000000" stroke-width="6"/>
<line x1="607" y1="1262.7" x2="731" y2="1262.7" stroke="#808080" stroke-width="6"/>
<line x1="607" y1="1321.7" x2="731" y2="1321.7" stroke="#ff0000" stroke-width="6"/>
<line x1="1178" y1="1203.7" x2="1301" y2="1203.7" stroke="#0000ff" stroke-width="6"/>
<line x1="1178" y1="1262.5" x2="1301" y2="1262.5" stroke="#8000ff" stroke-width="6"/>
<line x1="1178" y1="1321.3" x2="1301" y2="1321.3" stroke="#00ffff" stroke-width="6"/>
<line x1="1178" y1="1380.1" x2="1301" y2="1380.1" stroke="#ff8000" stroke-width="6"/>
<g stroke="#000" stroke-width="5.3" fill="none"><line x1="230" y1="1193" x2="230" y2="1328" stroke-width="7.4"/><line x1="213.5" y1="1193" x2="247" y2="1193"/><line x1="213.5" y1="1328" x2="247" y2="1328"/></g>
<line x1="52.5" y1="229.5" x2="52.5" y2="299.0" stroke="#000" stroke-width="7.3"/><path d="M52.5 168.5Q38.3 208.8 33.1 249.0L52.5 232.5L71.9 249.0Q66.7 208.8 52.5 168.5Z" fill="#000"/>
<line x1="531.1" y1="151.9" x2="544.6" y2="108.8" stroke="#000" stroke-width="6.0"/><path d="M518.6 192.0Q541.6 167.8 555.1 140.5L532.0 149.0L517.9 128.9Q513.5 159.0 518.6 192.0Z" fill="#000"/>
<line x1="1910.6" y1="170.0" x2="1909.5" y2="119.4" stroke="#000" stroke-width="6.0"/><path d="M1911.5 213.0Q1925.5 183.2 1929.5 153.6L1910.5 167.0L1890.9 154.4Q1896.2 183.8 1911.5 213.0Z" fill="#000"/>
<line x1="681.3" y1="1031.6" x2="664.4" y2="1079.8" stroke="#000" stroke-width="6.0"/><path d="M695.2 992.0Q671.4 1015.4 656.9 1042.2L680.3 1034.5L693.7 1055.1Q699.2 1025.2 695.2 992.0Z" fill="#000"/>
</svg>
</body></html>
